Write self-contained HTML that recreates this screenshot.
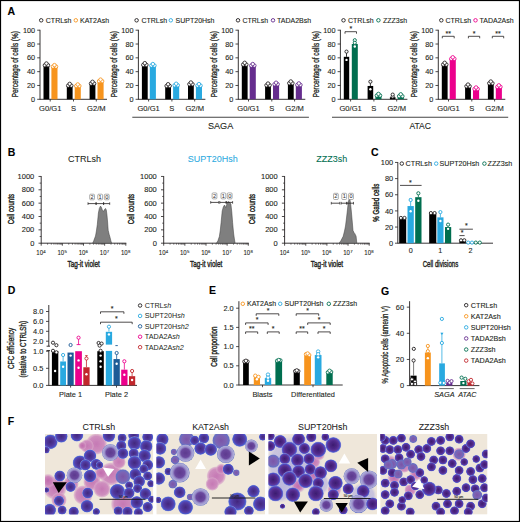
<!DOCTYPE html>
<html><head><meta charset="utf-8"><style>
html,body{margin:0;padding:0;background:#fff;}
body{width:520px;height:522px;overflow:hidden;}
svg{display:block;font-family:"Liberation Sans", sans-serif;}
</style></head><body>
<svg width="520" height="522" viewBox="0 0 520 522">
<defs>
<radialGradient id="gd" cx="50%" cy="50%" r="50%">
 <stop offset="0" stop-color="#3c1c70"/><stop offset="0.45" stop-color="#4e2888"/>
 <stop offset="0.68" stop-color="#5c3598"/><stop offset="0.82" stop-color="#4c48c0"/><stop offset="0.93" stop-color="#7078d4"/>
 <stop offset="1" stop-color="#a8acdf" stop-opacity="0.5"/>
</radialGradient>
<radialGradient id="gm" cx="50%" cy="50%" r="50%">
 <stop offset="0" stop-color="#7a55a8"/><stop offset="0.6" stop-color="#7c64b4"/>
 <stop offset="0.9" stop-color="#6670c4"/><stop offset="1" stop-color="#7080cc" stop-opacity="0.7"/>
</radialGradient>
<radialGradient id="gl" cx="50%" cy="50%" r="50%">
 <stop offset="0" stop-color="#5e3a8e"/><stop offset="0.5" stop-color="#6a489e"/>
 <stop offset="0.7" stop-color="#9a90cc"/><stop offset="0.9" stop-color="#aeacd8"/><stop offset="1" stop-color="#6070c4"/>
</radialGradient>
<radialGradient id="gp" cx="50%" cy="50%" r="50%">
 <stop offset="0" stop-color="#c06cae"/><stop offset="0.55" stop-color="#c97fb7" stop-opacity="0.92"/>
 <stop offset="0.8" stop-color="#d59fc6" stop-opacity="0.6"/><stop offset="1" stop-color="#e0c0d2" stop-opacity="0"/>
</radialGradient>
<radialGradient id="gp2" cx="50%" cy="50%" r="50%">
 <stop offset="0" stop-color="#c579b4"/><stop offset="0.7" stop-color="#cd8abd" stop-opacity="0.95"/>
 <stop offset="0.88" stop-color="#d7a4c8" stop-opacity="0.7"/><stop offset="1" stop-color="#e2c4d4" stop-opacity="0"/>
</radialGradient>
<radialGradient id="gd2" cx="50%" cy="50%" r="50%">
 <stop offset="0" stop-color="#42287e"/><stop offset="0.45" stop-color="#4e3698"/>
 <stop offset="0.7" stop-color="#5542ae"/><stop offset="0.85" stop-color="#4a5acc"/><stop offset="0.94" stop-color="#7684d8"/>
 <stop offset="1" stop-color="#b0b4e0" stop-opacity="0.5"/>
</radialGradient>
<radialGradient id="gL" cx="50%" cy="50%" r="50%">
 <stop offset="0" stop-color="#b4b2dc" stop-opacity="0.9"/><stop offset="0.75" stop-color="#bdb9de" stop-opacity="0.75"/>
 <stop offset="1" stop-color="#d8d0e0" stop-opacity="0"/>
</radialGradient>
<filter id="soft" x="-5%" y="-5%" width="110%" height="110%"><feGaussianBlur stdDeviation="0.7"/></filter>
</defs>
<rect x="0" y="0" width="520" height="522" fill="#fff"/>
<text x="7.60" y="15.00" font-size="10.5" text-anchor="start" fill="#000" stroke="#000" stroke-width="0.1" font-weight="bold" >A</text>
<text x="7.80" y="156.00" font-size="10.5" text-anchor="start" fill="#000" stroke="#000" stroke-width="0.1" font-weight="bold" >B</text>
<text x="371.00" y="155.50" font-size="10.5" text-anchor="start" fill="#000" stroke="#000" stroke-width="0.1" font-weight="bold" >C</text>
<text x="7.80" y="294.30" font-size="10.5" text-anchor="start" fill="#000" stroke="#000" stroke-width="0.1" font-weight="bold" >D</text>
<text x="209.00" y="294.30" font-size="10.5" text-anchor="start" fill="#000" stroke="#000" stroke-width="0.1" font-weight="bold" >E</text>
<text x="7.80" y="424.80" font-size="10.5" text-anchor="start" fill="#000" stroke="#000" stroke-width="0.1" font-weight="bold" >F</text>
<text x="381.00" y="294.60" font-size="10.5" text-anchor="start" fill="#000" stroke="#000" stroke-width="0.1" font-weight="bold" >G</text>
<line x1="40.00" y1="29.80" x2="40.00" y2="99.70" stroke="#231f20" stroke-width="0.9" />
<line x1="37.20" y1="99.30" x2="40.00" y2="99.30" stroke="#231f20" stroke-width="0.8" />
<text x="35.10" y="101.90" font-size="7.3" text-anchor="end" fill="#231f20" stroke="#231f20" stroke-width="0.1" >0</text>
<line x1="37.20" y1="85.48" x2="40.00" y2="85.48" stroke="#231f20" stroke-width="0.8" />
<text x="35.10" y="88.08" font-size="7.3" text-anchor="end" fill="#231f20" stroke="#231f20" stroke-width="0.1" >20</text>
<line x1="37.20" y1="71.66" x2="40.00" y2="71.66" stroke="#231f20" stroke-width="0.8" />
<text x="35.10" y="74.26" font-size="7.3" text-anchor="end" fill="#231f20" stroke="#231f20" stroke-width="0.1" >40</text>
<line x1="37.20" y1="57.84" x2="40.00" y2="57.84" stroke="#231f20" stroke-width="0.8" />
<text x="35.10" y="60.44" font-size="7.3" text-anchor="end" fill="#231f20" stroke="#231f20" stroke-width="0.1" >60</text>
<line x1="37.20" y1="44.02" x2="40.00" y2="44.02" stroke="#231f20" stroke-width="0.8" />
<text x="35.10" y="46.62" font-size="7.3" text-anchor="end" fill="#231f20" stroke="#231f20" stroke-width="0.1" >80</text>
<line x1="37.20" y1="30.20" x2="40.00" y2="30.20" stroke="#231f20" stroke-width="0.8" />
<text x="35.10" y="32.80" font-size="7.3" text-anchor="end" fill="#231f20" stroke="#231f20" stroke-width="0.1" >100</text>
<line x1="40.00" y1="99.30" x2="107.00" y2="99.30" stroke="#231f20" stroke-width="0.9" />
<line x1="50.20" y1="99.30" x2="50.20" y2="101.50" stroke="#231f20" stroke-width="0.8" />
<text x="50.20" y="110.80" font-size="7.6" text-anchor="middle" fill="#231f20" stroke="#231f20" stroke-width="0.1" >G0/G1</text>
<line x1="73.50" y1="99.30" x2="73.50" y2="101.50" stroke="#231f20" stroke-width="0.8" />
<text x="73.50" y="110.80" font-size="7.6" text-anchor="middle" fill="#231f20" stroke="#231f20" stroke-width="0.1" >S</text>
<line x1="96.30" y1="99.30" x2="96.30" y2="101.50" stroke="#231f20" stroke-width="0.8" />
<text x="96.30" y="110.80" font-size="7.6" text-anchor="middle" fill="#231f20" stroke="#231f20" stroke-width="0.1" >G2/M</text>
<text x="18.40" y="64.20" font-size="8.4" text-anchor="middle" fill="#231f20" stroke="#231f20" stroke-width="0.3" textLength="66" lengthAdjust="spacingAndGlyphs" transform="rotate(-90 18.40 64.20)" >Percentage of cells (%)</text>
<circle cx="41.20" cy="20.30" r="1.75" fill="#fff" stroke="#231f20" stroke-width="0.9" />
<text x="45.80" y="22.80" font-size="7" text-anchor="start" fill="#231f20" stroke="#231f20" stroke-width="0.1" >CTRLsh</text>
<circle cx="75.80" cy="20.30" r="1.75" fill="#fff" stroke="#f7941d" stroke-width="0.9" />
<text x="80.00" y="22.80" font-size="7" text-anchor="start" fill="#231f20" stroke="#231f20" stroke-width="0.1" >KAT2Ash</text>
<rect x="43.50" y="65.44" width="5.80" height="33.86" fill="#000000" />
<circle cx="44.90" cy="65.23" r="1.75" fill="#fff" stroke="#231f20" stroke-width="0.85" />
<circle cx="48.00" cy="65.23" r="1.75" fill="#fff" stroke="#231f20" stroke-width="0.85" />
<circle cx="46.40" cy="63.51" r="1.75" fill="#fff" stroke="#231f20" stroke-width="0.85" />
<rect x="51.40" y="66.82" width="6.10" height="32.48" fill="#f7941d" />
<circle cx="52.95" cy="66.62" r="1.75" fill="#fff" stroke="#f7941d" stroke-width="0.85" />
<circle cx="56.05" cy="66.62" r="1.75" fill="#fff" stroke="#f7941d" stroke-width="0.85" />
<circle cx="54.45" cy="65.10" r="1.75" fill="#fff" stroke="#f7941d" stroke-width="0.85" />
<rect x="66.80" y="85.83" width="5.80" height="13.47" fill="#000000" />
<circle cx="68.20" cy="85.62" r="1.75" fill="#fff" stroke="#231f20" stroke-width="0.85" />
<circle cx="71.30" cy="85.62" r="1.75" fill="#fff" stroke="#231f20" stroke-width="0.85" />
<circle cx="69.70" cy="83.89" r="1.75" fill="#fff" stroke="#231f20" stroke-width="0.85" />
<rect x="74.70" y="86.17" width="6.10" height="13.13" fill="#f7941d" />
<circle cx="76.25" cy="85.96" r="1.75" fill="#fff" stroke="#f7941d" stroke-width="0.85" />
<circle cx="79.35" cy="85.96" r="1.75" fill="#fff" stroke="#f7941d" stroke-width="0.85" />
<circle cx="77.75" cy="84.44" r="1.75" fill="#fff" stroke="#f7941d" stroke-width="0.85" />
<rect x="89.60" y="83.75" width="5.80" height="15.55" fill="#000000" />
<circle cx="91.00" cy="83.55" r="1.75" fill="#fff" stroke="#231f20" stroke-width="0.85" />
<circle cx="94.10" cy="83.55" r="1.75" fill="#fff" stroke="#231f20" stroke-width="0.85" />
<circle cx="92.50" cy="81.82" r="1.75" fill="#fff" stroke="#231f20" stroke-width="0.85" />
<rect x="97.50" y="81.33" width="6.10" height="17.97" fill="#f7941d" />
<circle cx="99.05" cy="81.13" r="1.75" fill="#fff" stroke="#f7941d" stroke-width="0.85" />
<circle cx="102.15" cy="81.13" r="1.75" fill="#fff" stroke="#f7941d" stroke-width="0.85" />
<circle cx="100.55" cy="79.61" r="1.75" fill="#fff" stroke="#f7941d" stroke-width="0.85" />
<line x1="138.40" y1="29.80" x2="138.40" y2="99.70" stroke="#231f20" stroke-width="0.9" />
<line x1="135.60" y1="99.30" x2="138.40" y2="99.30" stroke="#231f20" stroke-width="0.8" />
<text x="133.50" y="101.90" font-size="7.3" text-anchor="end" fill="#231f20" stroke="#231f20" stroke-width="0.1" >0</text>
<line x1="135.60" y1="85.48" x2="138.40" y2="85.48" stroke="#231f20" stroke-width="0.8" />
<text x="133.50" y="88.08" font-size="7.3" text-anchor="end" fill="#231f20" stroke="#231f20" stroke-width="0.1" >20</text>
<line x1="135.60" y1="71.66" x2="138.40" y2="71.66" stroke="#231f20" stroke-width="0.8" />
<text x="133.50" y="74.26" font-size="7.3" text-anchor="end" fill="#231f20" stroke="#231f20" stroke-width="0.1" >40</text>
<line x1="135.60" y1="57.84" x2="138.40" y2="57.84" stroke="#231f20" stroke-width="0.8" />
<text x="133.50" y="60.44" font-size="7.3" text-anchor="end" fill="#231f20" stroke="#231f20" stroke-width="0.1" >60</text>
<line x1="135.60" y1="44.02" x2="138.40" y2="44.02" stroke="#231f20" stroke-width="0.8" />
<text x="133.50" y="46.62" font-size="7.3" text-anchor="end" fill="#231f20" stroke="#231f20" stroke-width="0.1" >80</text>
<line x1="135.60" y1="30.20" x2="138.40" y2="30.20" stroke="#231f20" stroke-width="0.8" />
<text x="133.50" y="32.80" font-size="7.3" text-anchor="end" fill="#231f20" stroke="#231f20" stroke-width="0.1" >100</text>
<line x1="138.40" y1="99.30" x2="205.40" y2="99.30" stroke="#231f20" stroke-width="0.9" />
<line x1="148.60" y1="99.30" x2="148.60" y2="101.50" stroke="#231f20" stroke-width="0.8" />
<text x="148.60" y="110.80" font-size="7.6" text-anchor="middle" fill="#231f20" stroke="#231f20" stroke-width="0.1" >G0/G1</text>
<line x1="171.90" y1="99.30" x2="171.90" y2="101.50" stroke="#231f20" stroke-width="0.8" />
<text x="171.90" y="110.80" font-size="7.6" text-anchor="middle" fill="#231f20" stroke="#231f20" stroke-width="0.1" >S</text>
<line x1="194.70" y1="99.30" x2="194.70" y2="101.50" stroke="#231f20" stroke-width="0.8" />
<text x="194.70" y="110.80" font-size="7.6" text-anchor="middle" fill="#231f20" stroke="#231f20" stroke-width="0.1" >G2/M</text>
<text x="116.80" y="64.20" font-size="8.4" text-anchor="middle" fill="#231f20" stroke="#231f20" stroke-width="0.3" textLength="66" lengthAdjust="spacingAndGlyphs" transform="rotate(-90 116.80 64.20)" >Percentage of cells (%)</text>
<circle cx="136.60" cy="20.30" r="1.75" fill="#fff" stroke="#231f20" stroke-width="0.9" />
<text x="141.40" y="22.80" font-size="7" text-anchor="start" fill="#231f20" stroke="#231f20" stroke-width="0.1" >CTRLsh</text>
<circle cx="170.80" cy="20.30" r="1.75" fill="#fff" stroke="#29a9e0" stroke-width="0.9" />
<text x="175.60" y="22.80" font-size="7" text-anchor="start" fill="#231f20" stroke="#231f20" stroke-width="0.1" >SUPT20Hsh</text>
<rect x="141.90" y="65.10" width="5.80" height="34.20" fill="#000000" />
<circle cx="143.30" cy="64.89" r="1.75" fill="#fff" stroke="#231f20" stroke-width="0.85" />
<circle cx="146.40" cy="64.89" r="1.75" fill="#fff" stroke="#231f20" stroke-width="0.85" />
<circle cx="144.80" cy="63.16" r="1.75" fill="#fff" stroke="#231f20" stroke-width="0.85" />
<rect x="149.80" y="65.79" width="6.10" height="33.51" fill="#29a9e0" />
<circle cx="151.35" cy="65.58" r="1.75" fill="#fff" stroke="#29a9e0" stroke-width="0.85" />
<circle cx="154.45" cy="65.58" r="1.75" fill="#fff" stroke="#29a9e0" stroke-width="0.85" />
<circle cx="152.85" cy="64.06" r="1.75" fill="#fff" stroke="#29a9e0" stroke-width="0.85" />
<rect x="165.20" y="86.17" width="5.80" height="13.13" fill="#000000" />
<circle cx="166.60" cy="85.96" r="1.75" fill="#fff" stroke="#231f20" stroke-width="0.85" />
<circle cx="169.70" cy="85.96" r="1.75" fill="#fff" stroke="#231f20" stroke-width="0.85" />
<circle cx="168.10" cy="84.24" r="1.75" fill="#fff" stroke="#231f20" stroke-width="0.85" />
<rect x="173.10" y="85.48" width="6.10" height="13.82" fill="#29a9e0" />
<circle cx="174.65" cy="85.27" r="1.75" fill="#fff" stroke="#29a9e0" stroke-width="0.85" />
<circle cx="177.75" cy="85.27" r="1.75" fill="#fff" stroke="#29a9e0" stroke-width="0.85" />
<circle cx="176.15" cy="83.75" r="1.75" fill="#fff" stroke="#29a9e0" stroke-width="0.85" />
<rect x="188.00" y="84.44" width="5.80" height="14.86" fill="#000000" />
<circle cx="189.40" cy="84.24" r="1.75" fill="#fff" stroke="#231f20" stroke-width="0.85" />
<circle cx="192.50" cy="84.24" r="1.75" fill="#fff" stroke="#231f20" stroke-width="0.85" />
<circle cx="190.90" cy="82.51" r="1.75" fill="#fff" stroke="#231f20" stroke-width="0.85" />
<rect x="195.90" y="85.83" width="6.10" height="13.47" fill="#29a9e0" />
<circle cx="197.45" cy="85.62" r="1.75" fill="#fff" stroke="#29a9e0" stroke-width="0.85" />
<circle cx="200.55" cy="85.62" r="1.75" fill="#fff" stroke="#29a9e0" stroke-width="0.85" />
<circle cx="198.95" cy="84.10" r="1.75" fill="#fff" stroke="#29a9e0" stroke-width="0.85" />
<line x1="238.30" y1="29.80" x2="238.30" y2="99.70" stroke="#231f20" stroke-width="0.9" />
<line x1="235.50" y1="99.30" x2="238.30" y2="99.30" stroke="#231f20" stroke-width="0.8" />
<text x="233.40" y="101.90" font-size="7.3" text-anchor="end" fill="#231f20" stroke="#231f20" stroke-width="0.1" >0</text>
<line x1="235.50" y1="85.48" x2="238.30" y2="85.48" stroke="#231f20" stroke-width="0.8" />
<text x="233.40" y="88.08" font-size="7.3" text-anchor="end" fill="#231f20" stroke="#231f20" stroke-width="0.1" >20</text>
<line x1="235.50" y1="71.66" x2="238.30" y2="71.66" stroke="#231f20" stroke-width="0.8" />
<text x="233.40" y="74.26" font-size="7.3" text-anchor="end" fill="#231f20" stroke="#231f20" stroke-width="0.1" >40</text>
<line x1="235.50" y1="57.84" x2="238.30" y2="57.84" stroke="#231f20" stroke-width="0.8" />
<text x="233.40" y="60.44" font-size="7.3" text-anchor="end" fill="#231f20" stroke="#231f20" stroke-width="0.1" >60</text>
<line x1="235.50" y1="44.02" x2="238.30" y2="44.02" stroke="#231f20" stroke-width="0.8" />
<text x="233.40" y="46.62" font-size="7.3" text-anchor="end" fill="#231f20" stroke="#231f20" stroke-width="0.1" >80</text>
<line x1="235.50" y1="30.20" x2="238.30" y2="30.20" stroke="#231f20" stroke-width="0.8" />
<text x="233.40" y="32.80" font-size="7.3" text-anchor="end" fill="#231f20" stroke="#231f20" stroke-width="0.1" >100</text>
<line x1="238.30" y1="99.30" x2="305.30" y2="99.30" stroke="#231f20" stroke-width="0.9" />
<line x1="248.50" y1="99.30" x2="248.50" y2="101.50" stroke="#231f20" stroke-width="0.8" />
<text x="248.50" y="110.80" font-size="7.6" text-anchor="middle" fill="#231f20" stroke="#231f20" stroke-width="0.1" >G0/G1</text>
<line x1="271.80" y1="99.30" x2="271.80" y2="101.50" stroke="#231f20" stroke-width="0.8" />
<text x="271.80" y="110.80" font-size="7.6" text-anchor="middle" fill="#231f20" stroke="#231f20" stroke-width="0.1" >S</text>
<line x1="294.60" y1="99.30" x2="294.60" y2="101.50" stroke="#231f20" stroke-width="0.8" />
<text x="294.60" y="110.80" font-size="7.6" text-anchor="middle" fill="#231f20" stroke="#231f20" stroke-width="0.1" >G2/M</text>
<text x="216.70" y="64.20" font-size="8.4" text-anchor="middle" fill="#231f20" stroke="#231f20" stroke-width="0.3" textLength="66" lengthAdjust="spacingAndGlyphs" transform="rotate(-90 216.70 64.20)" >Percentage of cells (%)</text>
<circle cx="238.00" cy="20.30" r="1.75" fill="#fff" stroke="#231f20" stroke-width="0.9" />
<text x="242.40" y="22.80" font-size="7" text-anchor="start" fill="#231f20" stroke="#231f20" stroke-width="0.1" >CTRLsh</text>
<circle cx="273.00" cy="20.30" r="1.75" fill="#fff" stroke="#652d8e" stroke-width="0.9" />
<text x="277.00" y="22.80" font-size="7" text-anchor="start" fill="#231f20" stroke="#231f20" stroke-width="0.1" >TADA2Bsh</text>
<rect x="241.80" y="64.75" width="5.80" height="34.55" fill="#000000" />
<circle cx="243.20" cy="64.54" r="1.75" fill="#fff" stroke="#231f20" stroke-width="0.85" />
<circle cx="246.30" cy="64.54" r="1.75" fill="#fff" stroke="#231f20" stroke-width="0.85" />
<circle cx="244.70" cy="62.82" r="1.75" fill="#fff" stroke="#231f20" stroke-width="0.85" />
<rect x="249.70" y="65.79" width="6.10" height="33.51" fill="#652d8e" />
<circle cx="251.25" cy="65.58" r="1.75" fill="#fff" stroke="#652d8e" stroke-width="0.85" />
<circle cx="254.35" cy="65.58" r="1.75" fill="#fff" stroke="#652d8e" stroke-width="0.85" />
<circle cx="252.75" cy="64.06" r="1.75" fill="#fff" stroke="#652d8e" stroke-width="0.85" />
<rect x="265.10" y="85.48" width="5.80" height="13.82" fill="#000000" />
<circle cx="266.50" cy="85.27" r="1.75" fill="#fff" stroke="#231f20" stroke-width="0.85" />
<circle cx="269.60" cy="85.27" r="1.75" fill="#fff" stroke="#231f20" stroke-width="0.85" />
<circle cx="268.00" cy="83.55" r="1.75" fill="#fff" stroke="#231f20" stroke-width="0.85" />
<rect x="273.00" y="84.44" width="6.10" height="14.86" fill="#652d8e" />
<circle cx="274.55" cy="84.24" r="1.75" fill="#fff" stroke="#652d8e" stroke-width="0.85" />
<circle cx="277.65" cy="84.24" r="1.75" fill="#fff" stroke="#652d8e" stroke-width="0.85" />
<circle cx="276.05" cy="82.72" r="1.75" fill="#fff" stroke="#652d8e" stroke-width="0.85" />
<rect x="287.90" y="83.41" width="5.80" height="15.89" fill="#000000" />
<circle cx="289.30" cy="83.20" r="1.75" fill="#fff" stroke="#231f20" stroke-width="0.85" />
<circle cx="292.40" cy="83.20" r="1.75" fill="#fff" stroke="#231f20" stroke-width="0.85" />
<circle cx="290.80" cy="81.47" r="1.75" fill="#fff" stroke="#231f20" stroke-width="0.85" />
<rect x="295.80" y="85.13" width="6.10" height="14.17" fill="#652d8e" />
<circle cx="297.35" cy="84.93" r="1.75" fill="#fff" stroke="#652d8e" stroke-width="0.85" />
<circle cx="300.45" cy="84.93" r="1.75" fill="#fff" stroke="#652d8e" stroke-width="0.85" />
<circle cx="298.85" cy="83.41" r="1.75" fill="#fff" stroke="#652d8e" stroke-width="0.85" />
<line x1="340.40" y1="29.80" x2="340.40" y2="99.70" stroke="#231f20" stroke-width="0.9" />
<line x1="337.60" y1="99.30" x2="340.40" y2="99.30" stroke="#231f20" stroke-width="0.8" />
<text x="335.50" y="101.90" font-size="7.3" text-anchor="end" fill="#231f20" stroke="#231f20" stroke-width="0.1" >0</text>
<line x1="337.60" y1="85.48" x2="340.40" y2="85.48" stroke="#231f20" stroke-width="0.8" />
<text x="335.50" y="88.08" font-size="7.3" text-anchor="end" fill="#231f20" stroke="#231f20" stroke-width="0.1" >20</text>
<line x1="337.60" y1="71.66" x2="340.40" y2="71.66" stroke="#231f20" stroke-width="0.8" />
<text x="335.50" y="74.26" font-size="7.3" text-anchor="end" fill="#231f20" stroke="#231f20" stroke-width="0.1" >40</text>
<line x1="337.60" y1="57.84" x2="340.40" y2="57.84" stroke="#231f20" stroke-width="0.8" />
<text x="335.50" y="60.44" font-size="7.3" text-anchor="end" fill="#231f20" stroke="#231f20" stroke-width="0.1" >60</text>
<line x1="337.60" y1="44.02" x2="340.40" y2="44.02" stroke="#231f20" stroke-width="0.8" />
<text x="335.50" y="46.62" font-size="7.3" text-anchor="end" fill="#231f20" stroke="#231f20" stroke-width="0.1" >80</text>
<line x1="337.60" y1="30.20" x2="340.40" y2="30.20" stroke="#231f20" stroke-width="0.8" />
<text x="335.50" y="32.80" font-size="7.3" text-anchor="end" fill="#231f20" stroke="#231f20" stroke-width="0.1" >100</text>
<line x1="340.40" y1="99.30" x2="407.40" y2="99.30" stroke="#231f20" stroke-width="0.9" />
<line x1="350.60" y1="99.30" x2="350.60" y2="101.50" stroke="#231f20" stroke-width="0.8" />
<text x="350.60" y="110.80" font-size="7.6" text-anchor="middle" fill="#231f20" stroke="#231f20" stroke-width="0.1" >G0/G1</text>
<line x1="373.90" y1="99.30" x2="373.90" y2="101.50" stroke="#231f20" stroke-width="0.8" />
<text x="373.90" y="110.80" font-size="7.6" text-anchor="middle" fill="#231f20" stroke="#231f20" stroke-width="0.1" >S</text>
<line x1="396.70" y1="99.30" x2="396.70" y2="101.50" stroke="#231f20" stroke-width="0.8" />
<text x="396.70" y="110.80" font-size="7.6" text-anchor="middle" fill="#231f20" stroke="#231f20" stroke-width="0.1" >G2/M</text>
<text x="318.80" y="64.20" font-size="8.4" text-anchor="middle" fill="#231f20" stroke="#231f20" stroke-width="0.3" textLength="66" lengthAdjust="spacingAndGlyphs" transform="rotate(-90 318.80 64.20)" >Percentage of cells (%)</text>
<circle cx="343.50" cy="20.30" r="1.75" fill="#fff" stroke="#231f20" stroke-width="0.9" />
<text x="348.00" y="22.80" font-size="7" text-anchor="start" fill="#231f20" stroke="#231f20" stroke-width="0.1" >CTRLsh</text>
<circle cx="378.40" cy="20.30" r="1.75" fill="#fff" stroke="#006e4f" stroke-width="0.9" />
<text x="383.00" y="22.80" font-size="7" text-anchor="start" fill="#231f20" stroke="#231f20" stroke-width="0.1" >ZZZ3sh</text>
<line x1="438.30" y1="29.80" x2="438.30" y2="99.70" stroke="#231f20" stroke-width="0.9" />
<line x1="435.50" y1="99.30" x2="438.30" y2="99.30" stroke="#231f20" stroke-width="0.8" />
<text x="433.40" y="101.90" font-size="7.3" text-anchor="end" fill="#231f20" stroke="#231f20" stroke-width="0.1" >0</text>
<line x1="435.50" y1="85.48" x2="438.30" y2="85.48" stroke="#231f20" stroke-width="0.8" />
<text x="433.40" y="88.08" font-size="7.3" text-anchor="end" fill="#231f20" stroke="#231f20" stroke-width="0.1" >20</text>
<line x1="435.50" y1="71.66" x2="438.30" y2="71.66" stroke="#231f20" stroke-width="0.8" />
<text x="433.40" y="74.26" font-size="7.3" text-anchor="end" fill="#231f20" stroke="#231f20" stroke-width="0.1" >40</text>
<line x1="435.50" y1="57.84" x2="438.30" y2="57.84" stroke="#231f20" stroke-width="0.8" />
<text x="433.40" y="60.44" font-size="7.3" text-anchor="end" fill="#231f20" stroke="#231f20" stroke-width="0.1" >60</text>
<line x1="435.50" y1="44.02" x2="438.30" y2="44.02" stroke="#231f20" stroke-width="0.8" />
<text x="433.40" y="46.62" font-size="7.3" text-anchor="end" fill="#231f20" stroke="#231f20" stroke-width="0.1" >80</text>
<line x1="435.50" y1="30.20" x2="438.30" y2="30.20" stroke="#231f20" stroke-width="0.8" />
<text x="433.40" y="32.80" font-size="7.3" text-anchor="end" fill="#231f20" stroke="#231f20" stroke-width="0.1" >100</text>
<line x1="438.30" y1="99.30" x2="505.30" y2="99.30" stroke="#231f20" stroke-width="0.9" />
<line x1="448.50" y1="99.30" x2="448.50" y2="101.50" stroke="#231f20" stroke-width="0.8" />
<text x="448.50" y="110.80" font-size="7.6" text-anchor="middle" fill="#231f20" stroke="#231f20" stroke-width="0.1" >G0/G1</text>
<line x1="471.80" y1="99.30" x2="471.80" y2="101.50" stroke="#231f20" stroke-width="0.8" />
<text x="471.80" y="110.80" font-size="7.6" text-anchor="middle" fill="#231f20" stroke="#231f20" stroke-width="0.1" >S</text>
<line x1="494.60" y1="99.30" x2="494.60" y2="101.50" stroke="#231f20" stroke-width="0.8" />
<text x="494.60" y="110.80" font-size="7.6" text-anchor="middle" fill="#231f20" stroke="#231f20" stroke-width="0.1" >G2/M</text>
<text x="416.70" y="64.20" font-size="8.4" text-anchor="middle" fill="#231f20" stroke="#231f20" stroke-width="0.3" textLength="66" lengthAdjust="spacingAndGlyphs" transform="rotate(-90 416.70 64.20)" >Percentage of cells (%)</text>
<circle cx="441.30" cy="20.30" r="1.75" fill="#fff" stroke="#231f20" stroke-width="0.9" />
<text x="445.50" y="22.80" font-size="7" text-anchor="start" fill="#231f20" stroke="#231f20" stroke-width="0.1" >CTRLsh</text>
<circle cx="475.50" cy="20.30" r="1.75" fill="#fff" stroke="#ec008c" stroke-width="0.9" />
<text x="479.50" y="22.80" font-size="7" text-anchor="start" fill="#231f20" stroke="#231f20" stroke-width="0.1" >TADA2Ash</text>
<rect x="441.80" y="64.75" width="5.80" height="34.55" fill="#000000" />
<circle cx="443.20" cy="64.54" r="1.75" fill="#fff" stroke="#231f20" stroke-width="0.85" />
<circle cx="446.30" cy="64.54" r="1.75" fill="#fff" stroke="#231f20" stroke-width="0.85" />
<circle cx="444.70" cy="62.82" r="1.75" fill="#fff" stroke="#231f20" stroke-width="0.85" />
<rect x="449.70" y="59.01" width="6.10" height="40.29" fill="#ec008c" />
<circle cx="451.25" cy="58.81" r="1.75" fill="#fff" stroke="#ec008c" stroke-width="0.85" />
<circle cx="454.35" cy="58.81" r="1.75" fill="#fff" stroke="#ec008c" stroke-width="0.85" />
<circle cx="452.75" cy="57.29" r="1.75" fill="#fff" stroke="#ec008c" stroke-width="0.85" />
<rect x="465.10" y="86.52" width="5.80" height="12.78" fill="#000000" />
<circle cx="466.50" cy="86.31" r="1.75" fill="#fff" stroke="#231f20" stroke-width="0.85" />
<circle cx="469.60" cy="86.31" r="1.75" fill="#fff" stroke="#231f20" stroke-width="0.85" />
<circle cx="468.00" cy="84.58" r="1.75" fill="#fff" stroke="#231f20" stroke-width="0.85" />
<rect x="473.00" y="89.21" width="6.10" height="10.09" fill="#ec008c" />
<circle cx="474.55" cy="89.00" r="1.75" fill="#fff" stroke="#ec008c" stroke-width="0.85" />
<circle cx="477.65" cy="89.00" r="1.75" fill="#fff" stroke="#ec008c" stroke-width="0.85" />
<circle cx="476.05" cy="87.48" r="1.75" fill="#fff" stroke="#ec008c" stroke-width="0.85" />
<rect x="487.90" y="83.48" width="5.80" height="15.82" fill="#000000" />
<circle cx="489.30" cy="83.27" r="1.75" fill="#fff" stroke="#231f20" stroke-width="0.85" />
<circle cx="492.40" cy="83.27" r="1.75" fill="#fff" stroke="#231f20" stroke-width="0.85" />
<circle cx="490.80" cy="81.54" r="1.75" fill="#fff" stroke="#231f20" stroke-width="0.85" />
<rect x="495.80" y="87.07" width="6.10" height="12.23" fill="#ec008c" />
<circle cx="497.35" cy="86.86" r="1.75" fill="#fff" stroke="#ec008c" stroke-width="0.85" />
<circle cx="500.45" cy="86.86" r="1.75" fill="#fff" stroke="#ec008c" stroke-width="0.85" />
<circle cx="498.85" cy="85.34" r="1.75" fill="#fff" stroke="#ec008c" stroke-width="0.85" />
<line x1="346.50" y1="56.80" x2="346.50" y2="51.62" stroke="#000000" stroke-width="0.8" />
<line x1="345.20" y1="51.62" x2="347.80" y2="51.62" stroke="#000000" stroke-width="0.8" />
<rect x="343.80" y="56.80" width="5.40" height="42.50" fill="#000000" />
<circle cx="346.50" cy="59.91" r="1.20" fill="#fff" stroke="none" stroke-width="0" />
<circle cx="346.50" cy="51.62" r="1.60" fill="#fff" stroke="#231f20" stroke-width="0.9" />
<rect x="351.80" y="44.02" width="6.00" height="55.28" fill="#006e4f" />
<circle cx="354.80" cy="46.44" r="1.20" fill="#fff" stroke="none" stroke-width="0" />
<circle cx="354.80" cy="40.22" r="1.60" fill="#fff" stroke="#006e4f" stroke-width="0.9" />
<circle cx="354.80" cy="42.78" r="1.60" fill="#fff" stroke="#006e4f" stroke-width="0.9" />
<line x1="370.40" y1="85.96" x2="370.40" y2="81.82" stroke="#000000" stroke-width="0.8" />
<line x1="369.10" y1="81.82" x2="371.70" y2="81.82" stroke="#000000" stroke-width="0.8" />
<rect x="367.60" y="85.96" width="5.60" height="13.34" fill="#000000" />
<circle cx="370.40" cy="89.28" r="1.20" fill="#fff" stroke="none" stroke-width="0" />
<circle cx="370.40" cy="81.68" r="1.60" fill="#fff" stroke="#231f20" stroke-width="0.9" />
<rect x="375.40" y="95.50" width="6.10" height="3.80" fill="#006e4f" />
<circle cx="376.85" cy="95.50" r="1.75" fill="#fff" stroke="#006e4f" stroke-width="0.85" />
<circle cx="380.05" cy="95.50" r="1.75" fill="#fff" stroke="#006e4f" stroke-width="0.85" />
<circle cx="378.45" cy="93.91" r="1.75" fill="#fff" stroke="#006e4f" stroke-width="0.85" />
<rect x="389.90" y="97.23" width="5.60" height="2.07" fill="#000000" />
<circle cx="392.70" cy="96.54" r="1.60" fill="#fff" stroke="#231f20" stroke-width="0.9" />
<circle cx="392.70" cy="94.60" r="1.60" fill="#fff" stroke="#231f20" stroke-width="0.9" />
<rect x="397.70" y="96.54" width="6.10" height="2.76" fill="#006e4f" />
<circle cx="399.15" cy="96.19" r="1.75" fill="#fff" stroke="#006e4f" stroke-width="0.85" />
<circle cx="402.35" cy="96.19" r="1.75" fill="#fff" stroke="#006e4f" stroke-width="0.85" />
<circle cx="400.75" cy="94.32" r="1.75" fill="#fff" stroke="#006e4f" stroke-width="0.85" />
<path d="M345.00,33.70 V31.70 H356.50 V33.70" fill="none" stroke="#231f20" stroke-width="0.8" />
<text x="350.75" y="31.20" font-size="7" text-anchor="middle" fill="#231f20" stroke="#231f20" stroke-width="0.1" >*</text>
<path d="M442.30,38.30 V36.30 H454.20 V38.30" fill="none" stroke="#231f20" stroke-width="0.8" />
<text x="448.25" y="35.60" font-size="7" text-anchor="middle" fill="#231f20" stroke="#231f20" stroke-width="0.1" >**</text>
<path d="M468.40,38.30 V36.30 H479.70 V38.30" fill="none" stroke="#231f20" stroke-width="0.8" />
<text x="474.05" y="35.60" font-size="7" text-anchor="middle" fill="#231f20" stroke="#231f20" stroke-width="0.1" >*</text>
<path d="M492.30,38.30 V36.30 H503.70 V38.30" fill="none" stroke="#231f20" stroke-width="0.8" />
<text x="498.00" y="35.60" font-size="7" text-anchor="middle" fill="#231f20" stroke="#231f20" stroke-width="0.1" >**</text>
<line x1="132.30" y1="117.20" x2="308.90" y2="117.20" stroke="#444" stroke-width="1.1" />
<line x1="332.00" y1="117.20" x2="508.20" y2="117.20" stroke="#444" stroke-width="1.1" />
<text x="220.60" y="129.00" font-size="9.8" text-anchor="middle" fill="#231f20" stroke="#231f20" stroke-width="0.1" textLength="25.4" lengthAdjust="spacingAndGlyphs" >SAGA</text>
<text x="420.20" y="129.00" font-size="9.8" text-anchor="middle" fill="#231f20" stroke="#231f20" stroke-width="0.1" textLength="21.6" lengthAdjust="spacingAndGlyphs" >ATAC</text>
<line x1="41.20" y1="176.05" x2="41.20" y2="243.60" stroke="#231f20" stroke-width="0.9" />
<line x1="38.50" y1="243.20" x2="41.20" y2="243.20" stroke="#231f20" stroke-width="0.8" />
<text x="34.30" y="245.80" font-size="7.5" text-anchor="end" fill="#231f20" stroke="#231f20" stroke-width="0.1" >0</text>
<line x1="39.70" y1="236.52" x2="41.20" y2="236.52" stroke="#231f20" stroke-width="0.7" />
<line x1="38.50" y1="229.85" x2="41.20" y2="229.85" stroke="#231f20" stroke-width="0.8" />
<text x="34.30" y="232.45" font-size="7.5" text-anchor="end" fill="#231f20" stroke="#231f20" stroke-width="0.1" >200</text>
<line x1="39.70" y1="223.17" x2="41.20" y2="223.17" stroke="#231f20" stroke-width="0.7" />
<line x1="38.50" y1="216.50" x2="41.20" y2="216.50" stroke="#231f20" stroke-width="0.8" />
<text x="34.30" y="219.10" font-size="7.5" text-anchor="end" fill="#231f20" stroke="#231f20" stroke-width="0.1" >400</text>
<line x1="39.70" y1="209.82" x2="41.20" y2="209.82" stroke="#231f20" stroke-width="0.7" />
<line x1="38.50" y1="203.15" x2="41.20" y2="203.15" stroke="#231f20" stroke-width="0.8" />
<text x="34.30" y="205.75" font-size="7.5" text-anchor="end" fill="#231f20" stroke="#231f20" stroke-width="0.1" >600</text>
<line x1="39.70" y1="196.47" x2="41.20" y2="196.47" stroke="#231f20" stroke-width="0.7" />
<line x1="38.50" y1="189.80" x2="41.20" y2="189.80" stroke="#231f20" stroke-width="0.8" />
<text x="34.30" y="192.40" font-size="7.5" text-anchor="end" fill="#231f20" stroke="#231f20" stroke-width="0.1" >800</text>
<line x1="39.70" y1="183.12" x2="41.20" y2="183.12" stroke="#231f20" stroke-width="0.7" />
<line x1="38.50" y1="176.45" x2="41.20" y2="176.45" stroke="#231f20" stroke-width="0.8" />
<text x="34.30" y="179.05" font-size="7.5" text-anchor="end" fill="#231f20" stroke="#231f20" stroke-width="0.1" >1000</text>
<line x1="41.20" y1="243.20" x2="126.30" y2="243.20" stroke="#231f20" stroke-width="0.9" />
<line x1="41.20" y1="243.20" x2="41.20" y2="245.70" stroke="#231f20" stroke-width="0.8" />
<text x="39.70" y="255.10" font-size="7" text-anchor="middle" fill="#231f20" stroke="#231f20" stroke-width="0.1" textLength="6.7" lengthAdjust="spacingAndGlyphs" >10</text>
<text x="43.30" y="252.60" font-size="4.3" text-anchor="start" fill="#231f20" stroke="#231f20" stroke-width="0.1" >4</text>
<line x1="47.57" y1="243.20" x2="47.57" y2="244.70" stroke="#231f20" stroke-width="0.6" />
<line x1="51.29" y1="243.20" x2="51.29" y2="244.70" stroke="#231f20" stroke-width="0.6" />
<line x1="53.93" y1="243.20" x2="53.93" y2="244.70" stroke="#231f20" stroke-width="0.6" />
<line x1="55.98" y1="243.20" x2="55.98" y2="244.70" stroke="#231f20" stroke-width="0.6" />
<line x1="57.66" y1="243.20" x2="57.66" y2="244.70" stroke="#231f20" stroke-width="0.6" />
<line x1="59.07" y1="243.20" x2="59.07" y2="244.70" stroke="#231f20" stroke-width="0.6" />
<line x1="60.30" y1="243.20" x2="60.30" y2="244.70" stroke="#231f20" stroke-width="0.6" />
<line x1="61.38" y1="243.20" x2="61.38" y2="244.70" stroke="#231f20" stroke-width="0.6" />
<line x1="62.35" y1="243.20" x2="62.35" y2="245.70" stroke="#231f20" stroke-width="0.8" />
<text x="60.85" y="255.10" font-size="7" text-anchor="middle" fill="#231f20" stroke="#231f20" stroke-width="0.1" textLength="6.7" lengthAdjust="spacingAndGlyphs" >10</text>
<text x="64.45" y="252.60" font-size="4.3" text-anchor="start" fill="#231f20" stroke="#231f20" stroke-width="0.1" >5</text>
<line x1="68.72" y1="243.20" x2="68.72" y2="244.70" stroke="#231f20" stroke-width="0.6" />
<line x1="72.44" y1="243.20" x2="72.44" y2="244.70" stroke="#231f20" stroke-width="0.6" />
<line x1="75.08" y1="243.20" x2="75.08" y2="244.70" stroke="#231f20" stroke-width="0.6" />
<line x1="77.13" y1="243.20" x2="77.13" y2="244.70" stroke="#231f20" stroke-width="0.6" />
<line x1="78.81" y1="243.20" x2="78.81" y2="244.70" stroke="#231f20" stroke-width="0.6" />
<line x1="80.22" y1="243.20" x2="80.22" y2="244.70" stroke="#231f20" stroke-width="0.6" />
<line x1="81.45" y1="243.20" x2="81.45" y2="244.70" stroke="#231f20" stroke-width="0.6" />
<line x1="82.53" y1="243.20" x2="82.53" y2="244.70" stroke="#231f20" stroke-width="0.6" />
<line x1="83.50" y1="243.20" x2="83.50" y2="245.70" stroke="#231f20" stroke-width="0.8" />
<text x="82.00" y="255.10" font-size="7" text-anchor="middle" fill="#231f20" stroke="#231f20" stroke-width="0.1" textLength="6.7" lengthAdjust="spacingAndGlyphs" >10</text>
<text x="85.60" y="252.60" font-size="4.3" text-anchor="start" fill="#231f20" stroke="#231f20" stroke-width="0.1" >6</text>
<line x1="89.87" y1="243.20" x2="89.87" y2="244.70" stroke="#231f20" stroke-width="0.6" />
<line x1="93.59" y1="243.20" x2="93.59" y2="244.70" stroke="#231f20" stroke-width="0.6" />
<line x1="96.23" y1="243.20" x2="96.23" y2="244.70" stroke="#231f20" stroke-width="0.6" />
<line x1="98.28" y1="243.20" x2="98.28" y2="244.70" stroke="#231f20" stroke-width="0.6" />
<line x1="99.96" y1="243.20" x2="99.96" y2="244.70" stroke="#231f20" stroke-width="0.6" />
<line x1="101.37" y1="243.20" x2="101.37" y2="244.70" stroke="#231f20" stroke-width="0.6" />
<line x1="102.60" y1="243.20" x2="102.60" y2="244.70" stroke="#231f20" stroke-width="0.6" />
<line x1="103.68" y1="243.20" x2="103.68" y2="244.70" stroke="#231f20" stroke-width="0.6" />
<line x1="104.65" y1="243.20" x2="104.65" y2="245.70" stroke="#231f20" stroke-width="0.8" />
<text x="103.15" y="255.10" font-size="7" text-anchor="middle" fill="#231f20" stroke="#231f20" stroke-width="0.1" textLength="6.7" lengthAdjust="spacingAndGlyphs" >10</text>
<text x="106.75" y="252.60" font-size="4.3" text-anchor="start" fill="#231f20" stroke="#231f20" stroke-width="0.1" >7</text>
<line x1="111.02" y1="243.20" x2="111.02" y2="244.70" stroke="#231f20" stroke-width="0.6" />
<line x1="114.74" y1="243.20" x2="114.74" y2="244.70" stroke="#231f20" stroke-width="0.6" />
<line x1="117.38" y1="243.20" x2="117.38" y2="244.70" stroke="#231f20" stroke-width="0.6" />
<line x1="119.43" y1="243.20" x2="119.43" y2="244.70" stroke="#231f20" stroke-width="0.6" />
<line x1="121.11" y1="243.20" x2="121.11" y2="244.70" stroke="#231f20" stroke-width="0.6" />
<line x1="122.52" y1="243.20" x2="122.52" y2="244.70" stroke="#231f20" stroke-width="0.6" />
<line x1="123.75" y1="243.20" x2="123.75" y2="244.70" stroke="#231f20" stroke-width="0.6" />
<line x1="124.83" y1="243.20" x2="124.83" y2="244.70" stroke="#231f20" stroke-width="0.6" />
<line x1="125.80" y1="243.20" x2="125.80" y2="245.70" stroke="#231f20" stroke-width="0.8" />
<text x="124.30" y="255.10" font-size="7" text-anchor="middle" fill="#231f20" stroke="#231f20" stroke-width="0.1" textLength="6.7" lengthAdjust="spacingAndGlyphs" >10</text>
<text x="127.90" y="252.60" font-size="4.3" text-anchor="start" fill="#231f20" stroke="#231f20" stroke-width="0.1" >8</text>
<text x="14.10" y="209.10" font-size="9" text-anchor="middle" fill="#231f20" stroke="#231f20" stroke-width="0.4" textLength="30.2" lengthAdjust="spacingAndGlyphs" transform="rotate(-90 14.10 209.10)" >Cell counts</text>
<text x="83.60" y="267.10" font-size="8.8" text-anchor="middle" fill="#231f20" stroke="#231f20" stroke-width="0.4" textLength="32.3" lengthAdjust="spacingAndGlyphs" >Tag-it violet</text>
<text x="84.40" y="162.30" font-size="9.0" text-anchor="middle" fill="#231f20" stroke="#231f20" stroke-width="0.05" >CTRLsh</text>
<path d="M92.70,243.20 L93.80,240.60 L95.50,236.00 L96.40,231.00 L97.30,224.50 L98.40,213.00 L99.30,208.40 L100.50,206.10 L101.50,207.50 L102.50,210.50 L103.40,211.30 L104.50,209.50 L105.50,208.40 L106.30,210.00 L107.00,215.30 L107.60,222.00 L108.20,230.30 L109.20,234.50 L110.00,237.20 L110.80,240.50 L111.60,243.20 Z" fill="#7f7f7f" stroke="#3a3a3a" stroke-width="0.5" />
<rect x="89.70" y="194.20" width="4.8" height="5.60" rx="1.0" fill="#fff" stroke="#777" stroke-width="0.6"/>
<text x="92.10" y="198.70" font-size="5.6" text-anchor="middle" fill="#333" stroke="#333" stroke-width="0.05" >2</text>
<rect x="97.75" y="194.20" width="4.8" height="5.60" rx="1.0" fill="#fff" stroke="#777" stroke-width="0.6"/>
<text x="100.15" y="198.70" font-size="5.6" text-anchor="middle" fill="#333" stroke="#333" stroke-width="0.05" >1</text>
<rect x="104.35" y="194.20" width="4.8" height="5.60" rx="1.0" fill="#fff" stroke="#777" stroke-width="0.6"/>
<text x="106.75" y="198.70" font-size="5.6" text-anchor="middle" fill="#333" stroke="#333" stroke-width="0.05" >0</text>
<line x1="88.00" y1="203.60" x2="96.10" y2="203.60" stroke="#231f20" stroke-width="0.8" />
<line x1="88.00" y1="202.30" x2="88.00" y2="204.90" stroke="#231f20" stroke-width="0.7" />
<line x1="96.10" y1="202.30" x2="96.10" y2="204.90" stroke="#231f20" stroke-width="0.7" />
<line x1="96.10" y1="203.60" x2="103.60" y2="203.60" stroke="#231f20" stroke-width="0.8" />
<line x1="96.10" y1="202.30" x2="96.10" y2="204.90" stroke="#231f20" stroke-width="0.7" />
<line x1="103.60" y1="202.30" x2="103.60" y2="204.90" stroke="#231f20" stroke-width="0.7" />
<line x1="103.60" y1="203.60" x2="109.70" y2="203.60" stroke="#231f20" stroke-width="0.8" />
<line x1="103.60" y1="202.30" x2="103.60" y2="204.90" stroke="#231f20" stroke-width="0.7" />
<line x1="109.70" y1="202.30" x2="109.70" y2="204.90" stroke="#231f20" stroke-width="0.7" />
<line x1="163.70" y1="176.05" x2="163.70" y2="243.60" stroke="#231f20" stroke-width="0.9" />
<line x1="161.00" y1="243.20" x2="163.70" y2="243.20" stroke="#231f20" stroke-width="0.8" />
<text x="156.80" y="245.80" font-size="7.5" text-anchor="end" fill="#231f20" stroke="#231f20" stroke-width="0.1" >0</text>
<line x1="162.20" y1="236.52" x2="163.70" y2="236.52" stroke="#231f20" stroke-width="0.7" />
<line x1="161.00" y1="229.85" x2="163.70" y2="229.85" stroke="#231f20" stroke-width="0.8" />
<text x="156.80" y="232.45" font-size="7.5" text-anchor="end" fill="#231f20" stroke="#231f20" stroke-width="0.1" >200</text>
<line x1="162.20" y1="223.17" x2="163.70" y2="223.17" stroke="#231f20" stroke-width="0.7" />
<line x1="161.00" y1="216.50" x2="163.70" y2="216.50" stroke="#231f20" stroke-width="0.8" />
<text x="156.80" y="219.10" font-size="7.5" text-anchor="end" fill="#231f20" stroke="#231f20" stroke-width="0.1" >400</text>
<line x1="162.20" y1="209.82" x2="163.70" y2="209.82" stroke="#231f20" stroke-width="0.7" />
<line x1="161.00" y1="203.15" x2="163.70" y2="203.15" stroke="#231f20" stroke-width="0.8" />
<text x="156.80" y="205.75" font-size="7.5" text-anchor="end" fill="#231f20" stroke="#231f20" stroke-width="0.1" >600</text>
<line x1="162.20" y1="196.47" x2="163.70" y2="196.47" stroke="#231f20" stroke-width="0.7" />
<line x1="161.00" y1="189.80" x2="163.70" y2="189.80" stroke="#231f20" stroke-width="0.8" />
<text x="156.80" y="192.40" font-size="7.5" text-anchor="end" fill="#231f20" stroke="#231f20" stroke-width="0.1" >800</text>
<line x1="162.20" y1="183.12" x2="163.70" y2="183.12" stroke="#231f20" stroke-width="0.7" />
<line x1="161.00" y1="176.45" x2="163.70" y2="176.45" stroke="#231f20" stroke-width="0.8" />
<text x="156.80" y="179.05" font-size="7.5" text-anchor="end" fill="#231f20" stroke="#231f20" stroke-width="0.1" >1000</text>
<line x1="163.70" y1="243.20" x2="248.80" y2="243.20" stroke="#231f20" stroke-width="0.9" />
<line x1="163.70" y1="243.20" x2="163.70" y2="245.70" stroke="#231f20" stroke-width="0.8" />
<text x="162.20" y="255.10" font-size="7" text-anchor="middle" fill="#231f20" stroke="#231f20" stroke-width="0.1" textLength="6.7" lengthAdjust="spacingAndGlyphs" >10</text>
<text x="165.80" y="252.60" font-size="4.3" text-anchor="start" fill="#231f20" stroke="#231f20" stroke-width="0.1" >4</text>
<line x1="170.07" y1="243.20" x2="170.07" y2="244.70" stroke="#231f20" stroke-width="0.6" />
<line x1="173.79" y1="243.20" x2="173.79" y2="244.70" stroke="#231f20" stroke-width="0.6" />
<line x1="176.43" y1="243.20" x2="176.43" y2="244.70" stroke="#231f20" stroke-width="0.6" />
<line x1="178.48" y1="243.20" x2="178.48" y2="244.70" stroke="#231f20" stroke-width="0.6" />
<line x1="180.16" y1="243.20" x2="180.16" y2="244.70" stroke="#231f20" stroke-width="0.6" />
<line x1="181.57" y1="243.20" x2="181.57" y2="244.70" stroke="#231f20" stroke-width="0.6" />
<line x1="182.80" y1="243.20" x2="182.80" y2="244.70" stroke="#231f20" stroke-width="0.6" />
<line x1="183.88" y1="243.20" x2="183.88" y2="244.70" stroke="#231f20" stroke-width="0.6" />
<line x1="184.85" y1="243.20" x2="184.85" y2="245.70" stroke="#231f20" stroke-width="0.8" />
<text x="183.35" y="255.10" font-size="7" text-anchor="middle" fill="#231f20" stroke="#231f20" stroke-width="0.1" textLength="6.7" lengthAdjust="spacingAndGlyphs" >10</text>
<text x="186.95" y="252.60" font-size="4.3" text-anchor="start" fill="#231f20" stroke="#231f20" stroke-width="0.1" >5</text>
<line x1="191.22" y1="243.20" x2="191.22" y2="244.70" stroke="#231f20" stroke-width="0.6" />
<line x1="194.94" y1="243.20" x2="194.94" y2="244.70" stroke="#231f20" stroke-width="0.6" />
<line x1="197.58" y1="243.20" x2="197.58" y2="244.70" stroke="#231f20" stroke-width="0.6" />
<line x1="199.63" y1="243.20" x2="199.63" y2="244.70" stroke="#231f20" stroke-width="0.6" />
<line x1="201.31" y1="243.20" x2="201.31" y2="244.70" stroke="#231f20" stroke-width="0.6" />
<line x1="202.72" y1="243.20" x2="202.72" y2="244.70" stroke="#231f20" stroke-width="0.6" />
<line x1="203.95" y1="243.20" x2="203.95" y2="244.70" stroke="#231f20" stroke-width="0.6" />
<line x1="205.03" y1="243.20" x2="205.03" y2="244.70" stroke="#231f20" stroke-width="0.6" />
<line x1="206.00" y1="243.20" x2="206.00" y2="245.70" stroke="#231f20" stroke-width="0.8" />
<text x="204.50" y="255.10" font-size="7" text-anchor="middle" fill="#231f20" stroke="#231f20" stroke-width="0.1" textLength="6.7" lengthAdjust="spacingAndGlyphs" >10</text>
<text x="208.10" y="252.60" font-size="4.3" text-anchor="start" fill="#231f20" stroke="#231f20" stroke-width="0.1" >6</text>
<line x1="212.37" y1="243.20" x2="212.37" y2="244.70" stroke="#231f20" stroke-width="0.6" />
<line x1="216.09" y1="243.20" x2="216.09" y2="244.70" stroke="#231f20" stroke-width="0.6" />
<line x1="218.73" y1="243.20" x2="218.73" y2="244.70" stroke="#231f20" stroke-width="0.6" />
<line x1="220.78" y1="243.20" x2="220.78" y2="244.70" stroke="#231f20" stroke-width="0.6" />
<line x1="222.46" y1="243.20" x2="222.46" y2="244.70" stroke="#231f20" stroke-width="0.6" />
<line x1="223.87" y1="243.20" x2="223.87" y2="244.70" stroke="#231f20" stroke-width="0.6" />
<line x1="225.10" y1="243.20" x2="225.10" y2="244.70" stroke="#231f20" stroke-width="0.6" />
<line x1="226.18" y1="243.20" x2="226.18" y2="244.70" stroke="#231f20" stroke-width="0.6" />
<line x1="227.15" y1="243.20" x2="227.15" y2="245.70" stroke="#231f20" stroke-width="0.8" />
<text x="225.65" y="255.10" font-size="7" text-anchor="middle" fill="#231f20" stroke="#231f20" stroke-width="0.1" textLength="6.7" lengthAdjust="spacingAndGlyphs" >10</text>
<text x="229.25" y="252.60" font-size="4.3" text-anchor="start" fill="#231f20" stroke="#231f20" stroke-width="0.1" >7</text>
<line x1="233.52" y1="243.20" x2="233.52" y2="244.70" stroke="#231f20" stroke-width="0.6" />
<line x1="237.24" y1="243.20" x2="237.24" y2="244.70" stroke="#231f20" stroke-width="0.6" />
<line x1="239.88" y1="243.20" x2="239.88" y2="244.70" stroke="#231f20" stroke-width="0.6" />
<line x1="241.93" y1="243.20" x2="241.93" y2="244.70" stroke="#231f20" stroke-width="0.6" />
<line x1="243.61" y1="243.20" x2="243.61" y2="244.70" stroke="#231f20" stroke-width="0.6" />
<line x1="245.02" y1="243.20" x2="245.02" y2="244.70" stroke="#231f20" stroke-width="0.6" />
<line x1="246.25" y1="243.20" x2="246.25" y2="244.70" stroke="#231f20" stroke-width="0.6" />
<line x1="247.33" y1="243.20" x2="247.33" y2="244.70" stroke="#231f20" stroke-width="0.6" />
<line x1="248.30" y1="243.20" x2="248.30" y2="245.70" stroke="#231f20" stroke-width="0.8" />
<text x="246.80" y="255.10" font-size="7" text-anchor="middle" fill="#231f20" stroke="#231f20" stroke-width="0.1" textLength="6.7" lengthAdjust="spacingAndGlyphs" >10</text>
<text x="250.40" y="252.60" font-size="4.3" text-anchor="start" fill="#231f20" stroke="#231f20" stroke-width="0.1" >8</text>
<text x="134.40" y="209.10" font-size="9" text-anchor="middle" fill="#231f20" stroke="#231f20" stroke-width="0.4" textLength="30.2" lengthAdjust="spacingAndGlyphs" transform="rotate(-90 134.40 209.10)" >Cell counts</text>
<text x="206.10" y="267.10" font-size="8.8" text-anchor="middle" fill="#231f20" stroke="#231f20" stroke-width="0.4" textLength="32.3" lengthAdjust="spacingAndGlyphs" >Tag-it violet</text>
<text x="212.80" y="162.30" font-size="9.0" text-anchor="middle" fill="#29a9e0" stroke="#29a9e0" stroke-width="0.05" >SUPT20Hsh</text>
<path d="M216.50,243.20 L218.00,240.50 L219.40,236.30 L220.30,230.00 L221.10,222.50 L222.20,211.00 L223.30,207.00 L224.50,205.00 L225.20,206.50 L225.70,207.50 L226.60,205.00 L227.30,202.50 L228.00,201.60 L229.50,202.20 L230.90,204.00 L231.80,212.00 L232.60,222.50 L233.20,229.00 L233.70,234.00 L234.40,239.00 L235.10,243.20 Z" fill="#7f7f7f" stroke="#3a3a3a" stroke-width="0.5" />
<rect x="212.10" y="192.90" width="4.8" height="6.00" rx="1.0" fill="#fff" stroke="#777" stroke-width="0.6"/>
<text x="214.50" y="197.80" font-size="5.6" text-anchor="middle" fill="#333" stroke="#333" stroke-width="0.05" >2</text>
<rect x="221.00" y="192.90" width="4.8" height="6.00" rx="1.0" fill="#fff" stroke="#777" stroke-width="0.6"/>
<text x="223.40" y="197.80" font-size="5.6" text-anchor="middle" fill="#333" stroke="#333" stroke-width="0.05" >1</text>
<rect x="227.30" y="192.90" width="4.8" height="6.00" rx="1.0" fill="#fff" stroke="#777" stroke-width="0.6"/>
<text x="229.70" y="197.80" font-size="5.6" text-anchor="middle" fill="#333" stroke="#333" stroke-width="0.05" >0</text>
<line x1="210.70" y1="202.40" x2="218.80" y2="202.40" stroke="#231f20" stroke-width="0.8" />
<line x1="210.70" y1="201.10" x2="210.70" y2="203.70" stroke="#231f20" stroke-width="0.7" />
<line x1="218.80" y1="201.10" x2="218.80" y2="203.70" stroke="#231f20" stroke-width="0.7" />
<line x1="219.80" y1="202.40" x2="226.20" y2="202.40" stroke="#231f20" stroke-width="0.8" />
<line x1="219.80" y1="201.10" x2="219.80" y2="203.70" stroke="#231f20" stroke-width="0.7" />
<line x1="226.20" y1="201.10" x2="226.20" y2="203.70" stroke="#231f20" stroke-width="0.7" />
<line x1="226.20" y1="202.40" x2="232.60" y2="202.40" stroke="#231f20" stroke-width="0.8" />
<line x1="226.20" y1="201.10" x2="226.20" y2="203.70" stroke="#231f20" stroke-width="0.7" />
<line x1="232.60" y1="201.10" x2="232.60" y2="203.70" stroke="#231f20" stroke-width="0.7" />
<line x1="284.60" y1="176.05" x2="284.60" y2="243.60" stroke="#231f20" stroke-width="0.9" />
<line x1="281.90" y1="243.20" x2="284.60" y2="243.20" stroke="#231f20" stroke-width="0.8" />
<text x="277.70" y="245.80" font-size="7.5" text-anchor="end" fill="#231f20" stroke="#231f20" stroke-width="0.1" >0</text>
<line x1="283.10" y1="236.52" x2="284.60" y2="236.52" stroke="#231f20" stroke-width="0.7" />
<line x1="281.90" y1="229.85" x2="284.60" y2="229.85" stroke="#231f20" stroke-width="0.8" />
<text x="277.70" y="232.45" font-size="7.5" text-anchor="end" fill="#231f20" stroke="#231f20" stroke-width="0.1" >200</text>
<line x1="283.10" y1="223.17" x2="284.60" y2="223.17" stroke="#231f20" stroke-width="0.7" />
<line x1="281.90" y1="216.50" x2="284.60" y2="216.50" stroke="#231f20" stroke-width="0.8" />
<text x="277.70" y="219.10" font-size="7.5" text-anchor="end" fill="#231f20" stroke="#231f20" stroke-width="0.1" >400</text>
<line x1="283.10" y1="209.82" x2="284.60" y2="209.82" stroke="#231f20" stroke-width="0.7" />
<line x1="281.90" y1="203.15" x2="284.60" y2="203.15" stroke="#231f20" stroke-width="0.8" />
<text x="277.70" y="205.75" font-size="7.5" text-anchor="end" fill="#231f20" stroke="#231f20" stroke-width="0.1" >600</text>
<line x1="283.10" y1="196.47" x2="284.60" y2="196.47" stroke="#231f20" stroke-width="0.7" />
<line x1="281.90" y1="189.80" x2="284.60" y2="189.80" stroke="#231f20" stroke-width="0.8" />
<text x="277.70" y="192.40" font-size="7.5" text-anchor="end" fill="#231f20" stroke="#231f20" stroke-width="0.1" >800</text>
<line x1="283.10" y1="183.12" x2="284.60" y2="183.12" stroke="#231f20" stroke-width="0.7" />
<line x1="281.90" y1="176.45" x2="284.60" y2="176.45" stroke="#231f20" stroke-width="0.8" />
<text x="277.70" y="179.05" font-size="7.5" text-anchor="end" fill="#231f20" stroke="#231f20" stroke-width="0.1" >1000</text>
<line x1="284.60" y1="243.20" x2="369.70" y2="243.20" stroke="#231f20" stroke-width="0.9" />
<line x1="284.60" y1="243.20" x2="284.60" y2="245.70" stroke="#231f20" stroke-width="0.8" />
<text x="283.10" y="255.10" font-size="7" text-anchor="middle" fill="#231f20" stroke="#231f20" stroke-width="0.1" textLength="6.7" lengthAdjust="spacingAndGlyphs" >10</text>
<text x="286.70" y="252.60" font-size="4.3" text-anchor="start" fill="#231f20" stroke="#231f20" stroke-width="0.1" >4</text>
<line x1="290.97" y1="243.20" x2="290.97" y2="244.70" stroke="#231f20" stroke-width="0.6" />
<line x1="294.69" y1="243.20" x2="294.69" y2="244.70" stroke="#231f20" stroke-width="0.6" />
<line x1="297.33" y1="243.20" x2="297.33" y2="244.70" stroke="#231f20" stroke-width="0.6" />
<line x1="299.38" y1="243.20" x2="299.38" y2="244.70" stroke="#231f20" stroke-width="0.6" />
<line x1="301.06" y1="243.20" x2="301.06" y2="244.70" stroke="#231f20" stroke-width="0.6" />
<line x1="302.47" y1="243.20" x2="302.47" y2="244.70" stroke="#231f20" stroke-width="0.6" />
<line x1="303.70" y1="243.20" x2="303.70" y2="244.70" stroke="#231f20" stroke-width="0.6" />
<line x1="304.78" y1="243.20" x2="304.78" y2="244.70" stroke="#231f20" stroke-width="0.6" />
<line x1="305.75" y1="243.20" x2="305.75" y2="245.70" stroke="#231f20" stroke-width="0.8" />
<text x="304.25" y="255.10" font-size="7" text-anchor="middle" fill="#231f20" stroke="#231f20" stroke-width="0.1" textLength="6.7" lengthAdjust="spacingAndGlyphs" >10</text>
<text x="307.85" y="252.60" font-size="4.3" text-anchor="start" fill="#231f20" stroke="#231f20" stroke-width="0.1" >5</text>
<line x1="312.12" y1="243.20" x2="312.12" y2="244.70" stroke="#231f20" stroke-width="0.6" />
<line x1="315.84" y1="243.20" x2="315.84" y2="244.70" stroke="#231f20" stroke-width="0.6" />
<line x1="318.48" y1="243.20" x2="318.48" y2="244.70" stroke="#231f20" stroke-width="0.6" />
<line x1="320.53" y1="243.20" x2="320.53" y2="244.70" stroke="#231f20" stroke-width="0.6" />
<line x1="322.21" y1="243.20" x2="322.21" y2="244.70" stroke="#231f20" stroke-width="0.6" />
<line x1="323.62" y1="243.20" x2="323.62" y2="244.70" stroke="#231f20" stroke-width="0.6" />
<line x1="324.85" y1="243.20" x2="324.85" y2="244.70" stroke="#231f20" stroke-width="0.6" />
<line x1="325.93" y1="243.20" x2="325.93" y2="244.70" stroke="#231f20" stroke-width="0.6" />
<line x1="326.90" y1="243.20" x2="326.90" y2="245.70" stroke="#231f20" stroke-width="0.8" />
<text x="325.40" y="255.10" font-size="7" text-anchor="middle" fill="#231f20" stroke="#231f20" stroke-width="0.1" textLength="6.7" lengthAdjust="spacingAndGlyphs" >10</text>
<text x="329.00" y="252.60" font-size="4.3" text-anchor="start" fill="#231f20" stroke="#231f20" stroke-width="0.1" >6</text>
<line x1="333.27" y1="243.20" x2="333.27" y2="244.70" stroke="#231f20" stroke-width="0.6" />
<line x1="336.99" y1="243.20" x2="336.99" y2="244.70" stroke="#231f20" stroke-width="0.6" />
<line x1="339.63" y1="243.20" x2="339.63" y2="244.70" stroke="#231f20" stroke-width="0.6" />
<line x1="341.68" y1="243.20" x2="341.68" y2="244.70" stroke="#231f20" stroke-width="0.6" />
<line x1="343.36" y1="243.20" x2="343.36" y2="244.70" stroke="#231f20" stroke-width="0.6" />
<line x1="344.77" y1="243.20" x2="344.77" y2="244.70" stroke="#231f20" stroke-width="0.6" />
<line x1="346.00" y1="243.20" x2="346.00" y2="244.70" stroke="#231f20" stroke-width="0.6" />
<line x1="347.08" y1="243.20" x2="347.08" y2="244.70" stroke="#231f20" stroke-width="0.6" />
<line x1="348.05" y1="243.20" x2="348.05" y2="245.70" stroke="#231f20" stroke-width="0.8" />
<text x="346.55" y="255.10" font-size="7" text-anchor="middle" fill="#231f20" stroke="#231f20" stroke-width="0.1" textLength="6.7" lengthAdjust="spacingAndGlyphs" >10</text>
<text x="350.15" y="252.60" font-size="4.3" text-anchor="start" fill="#231f20" stroke="#231f20" stroke-width="0.1" >7</text>
<line x1="354.42" y1="243.20" x2="354.42" y2="244.70" stroke="#231f20" stroke-width="0.6" />
<line x1="358.14" y1="243.20" x2="358.14" y2="244.70" stroke="#231f20" stroke-width="0.6" />
<line x1="360.78" y1="243.20" x2="360.78" y2="244.70" stroke="#231f20" stroke-width="0.6" />
<line x1="362.83" y1="243.20" x2="362.83" y2="244.70" stroke="#231f20" stroke-width="0.6" />
<line x1="364.51" y1="243.20" x2="364.51" y2="244.70" stroke="#231f20" stroke-width="0.6" />
<line x1="365.92" y1="243.20" x2="365.92" y2="244.70" stroke="#231f20" stroke-width="0.6" />
<line x1="367.15" y1="243.20" x2="367.15" y2="244.70" stroke="#231f20" stroke-width="0.6" />
<line x1="368.23" y1="243.20" x2="368.23" y2="244.70" stroke="#231f20" stroke-width="0.6" />
<line x1="369.20" y1="243.20" x2="369.20" y2="245.70" stroke="#231f20" stroke-width="0.8" />
<text x="367.70" y="255.10" font-size="7" text-anchor="middle" fill="#231f20" stroke="#231f20" stroke-width="0.1" textLength="6.7" lengthAdjust="spacingAndGlyphs" >10</text>
<text x="371.30" y="252.60" font-size="4.3" text-anchor="start" fill="#231f20" stroke="#231f20" stroke-width="0.1" >8</text>
<text x="255.20" y="209.10" font-size="9" text-anchor="middle" fill="#231f20" stroke="#231f20" stroke-width="0.4" textLength="30.2" lengthAdjust="spacingAndGlyphs" transform="rotate(-90 255.20 209.10)" >Cell counts</text>
<text x="327.00" y="267.10" font-size="8.8" text-anchor="middle" fill="#231f20" stroke="#231f20" stroke-width="0.4" textLength="32.3" lengthAdjust="spacingAndGlyphs" >Tag-it violet</text>
<text x="331.80" y="162.30" font-size="9.0" text-anchor="middle" fill="#006e4f" stroke="#006e4f" stroke-width="0.05" >ZZZ3sh</text>
<path d="M339.20,243.20 L341.00,240.50 L343.20,236.30 L344.50,231.00 L345.50,226.00 L346.50,218.00 L347.30,211.00 L348.30,202.00 L349.60,197.20 L350.50,203.00 L351.30,211.00 L352.20,221.00 L353.00,230.50 L354.00,232.60 L354.70,233.40 L355.50,235.00 L356.10,236.30 L356.50,240.00 L356.80,243.20 Z" fill="#7f7f7f" stroke="#3a3a3a" stroke-width="0.5" />
<rect x="333.50" y="193.30" width="4.8" height="6.20" rx="1.0" fill="#fff" stroke="#777" stroke-width="0.6"/>
<text x="335.90" y="198.40" font-size="5.6" text-anchor="middle" fill="#333" stroke="#333" stroke-width="0.05" >2</text>
<rect x="341.80" y="193.30" width="4.8" height="6.20" rx="1.0" fill="#fff" stroke="#777" stroke-width="0.6"/>
<text x="344.20" y="198.40" font-size="5.6" text-anchor="middle" fill="#333" stroke="#333" stroke-width="0.05" >1</text>
<rect x="348.60" y="193.30" width="4.8" height="6.20" rx="1.0" fill="#fff" stroke="#777" stroke-width="0.6"/>
<text x="351.00" y="198.40" font-size="5.6" text-anchor="middle" fill="#333" stroke="#333" stroke-width="0.05" >0</text>
<line x1="331.30" y1="203.20" x2="339.80" y2="203.20" stroke="#231f20" stroke-width="0.8" />
<line x1="331.30" y1="201.90" x2="331.30" y2="204.50" stroke="#231f20" stroke-width="0.7" />
<line x1="339.80" y1="201.90" x2="339.80" y2="204.50" stroke="#231f20" stroke-width="0.7" />
<line x1="341.20" y1="203.20" x2="346.80" y2="203.20" stroke="#231f20" stroke-width="0.8" />
<line x1="341.20" y1="201.90" x2="341.20" y2="204.50" stroke="#231f20" stroke-width="0.7" />
<line x1="346.80" y1="201.90" x2="346.80" y2="204.50" stroke="#231f20" stroke-width="0.7" />
<line x1="346.80" y1="203.20" x2="353.50" y2="203.20" stroke="#231f20" stroke-width="0.8" />
<line x1="346.80" y1="201.90" x2="346.80" y2="204.50" stroke="#231f20" stroke-width="0.7" />
<line x1="353.50" y1="201.90" x2="353.50" y2="204.50" stroke="#231f20" stroke-width="0.7" />
<line x1="397.80" y1="162.05" x2="397.80" y2="243.60" stroke="#231f20" stroke-width="0.9" />
<line x1="395.00" y1="243.20" x2="397.80" y2="243.20" stroke="#231f20" stroke-width="0.8" />
<text x="393.20" y="245.80" font-size="7.4" text-anchor="end" fill="#231f20" stroke="#231f20" stroke-width="0.1" >0</text>
<line x1="395.00" y1="227.05" x2="397.80" y2="227.05" stroke="#231f20" stroke-width="0.8" />
<text x="393.20" y="229.65" font-size="7.4" text-anchor="end" fill="#231f20" stroke="#231f20" stroke-width="0.1" >20</text>
<line x1="395.00" y1="210.90" x2="397.80" y2="210.90" stroke="#231f20" stroke-width="0.8" />
<text x="393.20" y="213.50" font-size="7.4" text-anchor="end" fill="#231f20" stroke="#231f20" stroke-width="0.1" >40</text>
<line x1="395.00" y1="194.75" x2="397.80" y2="194.75" stroke="#231f20" stroke-width="0.8" />
<text x="393.20" y="197.35" font-size="7.4" text-anchor="end" fill="#231f20" stroke="#231f20" stroke-width="0.1" >60</text>
<line x1="395.00" y1="178.60" x2="397.80" y2="178.60" stroke="#231f20" stroke-width="0.8" />
<text x="393.20" y="181.20" font-size="7.4" text-anchor="end" fill="#231f20" stroke="#231f20" stroke-width="0.1" >80</text>
<line x1="395.00" y1="162.45" x2="397.80" y2="162.45" stroke="#231f20" stroke-width="0.8" />
<text x="393.20" y="165.05" font-size="7.4" text-anchor="end" fill="#231f20" stroke="#231f20" stroke-width="0.1" >100</text>
<line x1="397.80" y1="243.20" x2="493.00" y2="243.20" stroke="#231f20" stroke-width="0.9" />
<text x="410.80" y="253.00" font-size="7.2" text-anchor="middle" fill="#231f20" stroke="#231f20" stroke-width="0.1" >0</text>
<text x="440.20" y="253.00" font-size="7.2" text-anchor="middle" fill="#231f20" stroke="#231f20" stroke-width="0.1" >1</text>
<text x="470.40" y="253.00" font-size="7.2" text-anchor="middle" fill="#231f20" stroke="#231f20" stroke-width="0.1" >2</text>
<text x="378.80" y="202.75" font-size="9" text-anchor="middle" fill="#231f20" stroke="#231f20" stroke-width="0.4" textLength="38.1" lengthAdjust="spacingAndGlyphs" transform="rotate(-90 378.80 202.75)" >% Gated cells</text>
<text x="440.50" y="266.50" font-size="9" text-anchor="middle" fill="#231f20" stroke="#231f20" stroke-width="0.4" textLength="35.6" lengthAdjust="spacingAndGlyphs" >Cell divisions</text>
<circle cx="401.80" cy="163.60" r="1.75" fill="#fff" stroke="#231f20" stroke-width="0.9" />
<text x="405.60" y="166.10" font-size="7.2" text-anchor="start" fill="#231f20" stroke="#231f20" stroke-width="0.1" >CTRLsh</text>
<circle cx="436.20" cy="163.60" r="1.75" fill="#fff" stroke="#29a9e0" stroke-width="0.9" />
<text x="439.40" y="166.10" font-size="7.2" text-anchor="start" fill="#231f20" stroke="#231f20" stroke-width="0.1" >SUPT20Hsh</text>
<circle cx="484.40" cy="163.60" r="1.75" fill="#fff" stroke="#006e4f" stroke-width="0.9" />
<text x="487.60" y="166.10" font-size="7.2" text-anchor="start" fill="#231f20" stroke="#231f20" stroke-width="0.1" >ZZZ3sh</text>
<rect x="399.20" y="218.17" width="7.00" height="25.03" fill="#000000" />
<circle cx="400.90" cy="217.93" r="1.60" fill="#fff" stroke="#231f20" stroke-width="0.9" />
<circle cx="404.50" cy="217.93" r="1.60" fill="#fff" stroke="#231f20" stroke-width="0.9" />
<line x1="410.65" y1="206.05" x2="410.65" y2="198.79" stroke="#29a9e0" stroke-width="0.8" />
<line x1="409.35" y1="198.79" x2="411.95" y2="198.79" stroke="#29a9e0" stroke-width="0.8" />
<rect x="407.50" y="206.05" width="6.30" height="37.15" fill="#29a9e0" />
<circle cx="410.65" cy="211.30" r="1.20" fill="#fff" stroke="none" stroke-width="0" />
<circle cx="410.65" cy="200.00" r="1.60" fill="#fff" stroke="#29a9e0" stroke-width="0.9" />
<line x1="418.35" y1="197.17" x2="418.35" y2="193.13" stroke="#006e4f" stroke-width="0.8" />
<line x1="417.05" y1="193.13" x2="419.65" y2="193.13" stroke="#006e4f" stroke-width="0.8" />
<rect x="415.20" y="197.17" width="6.30" height="46.03" fill="#006e4f" />
<circle cx="418.35" cy="200.81" r="1.20" fill="#fff" stroke="none" stroke-width="0" />
<circle cx="418.35" cy="193.30" r="1.60" fill="#fff" stroke="#006e4f" stroke-width="0.9" />
<rect x="429.20" y="213.32" width="7.10" height="29.88" fill="#000000" />
<circle cx="430.90" cy="213.08" r="1.60" fill="#fff" stroke="#231f20" stroke-width="0.9" />
<circle cx="434.60" cy="213.08" r="1.60" fill="#fff" stroke="#231f20" stroke-width="0.9" />
<line x1="440.40" y1="217.36" x2="440.40" y2="212.11" stroke="#29a9e0" stroke-width="0.8" />
<line x1="439.10" y1="212.11" x2="441.70" y2="212.11" stroke="#29a9e0" stroke-width="0.8" />
<rect x="437.30" y="217.36" width="6.20" height="25.84" fill="#29a9e0" />
<circle cx="440.40" cy="220.99" r="1.20" fill="#fff" stroke="none" stroke-width="0" />
<circle cx="440.40" cy="212.11" r="1.60" fill="#fff" stroke="#29a9e0" stroke-width="0.9" />
<line x1="448.10" y1="227.05" x2="448.10" y2="224.63" stroke="#006e4f" stroke-width="0.8" />
<line x1="446.80" y1="224.63" x2="449.40" y2="224.63" stroke="#006e4f" stroke-width="0.8" />
<rect x="445.00" y="227.05" width="6.20" height="16.15" fill="#006e4f" />
<circle cx="448.10" cy="224.63" r="1.60" fill="#fff" stroke="#006e4f" stroke-width="0.9" />
<circle cx="448.10" cy="228.83" r="1.20" fill="#fff" stroke="none" stroke-width="0" />
<rect x="459.40" y="240.29" width="6.40" height="2.91" fill="#000000" />
<circle cx="461.00" cy="240.29" r="1.60" fill="#fff" stroke="#231f20" stroke-width="0.9" />
<circle cx="464.30" cy="240.29" r="1.60" fill="#fff" stroke="#231f20" stroke-width="0.9" />
<circle cx="468.20" cy="242.60" r="1.60" fill="#fff" stroke="#29a9e0" stroke-width="0.9" />
<circle cx="472.00" cy="242.60" r="1.60" fill="#fff" stroke="#29a9e0" stroke-width="0.9" />
<circle cx="475.80" cy="242.60" r="1.60" fill="#fff" stroke="#006e4f" stroke-width="0.9" />
<circle cx="479.80" cy="242.60" r="1.60" fill="#fff" stroke="#006e4f" stroke-width="0.9" />
<line x1="400.00" y1="185.40" x2="421.60" y2="185.40" stroke="#231f20" stroke-width="0.8" />
<text x="410.40" y="184.60" font-size="7" text-anchor="middle" fill="#231f20" stroke="#231f20" stroke-width="0.1" >*</text>
<line x1="459.40" y1="229.20" x2="472.90" y2="229.20" stroke="#231f20" stroke-width="0.8" />
<text x="466.30" y="228.40" font-size="7" text-anchor="middle" fill="#231f20" stroke="#231f20" stroke-width="0.1" >*</text>
<line x1="459.40" y1="235.60" x2="464.60" y2="235.60" stroke="#231f20" stroke-width="0.8" />
<text x="462.10" y="234.80" font-size="7" text-anchor="middle" fill="#231f20" stroke="#231f20" stroke-width="0.1" >*</text>
<line x1="48.80" y1="385.80" x2="48.80" y2="350.40" stroke="#231f20" stroke-width="0.9" />
<line x1="48.80" y1="346.20" x2="48.80" y2="305.00" stroke="#231f20" stroke-width="0.9" />
<line x1="46.60" y1="346.20" x2="50.00" y2="346.20" stroke="#231f20" stroke-width="0.9" />
<line x1="46.60" y1="350.60" x2="50.00" y2="350.60" stroke="#231f20" stroke-width="0.9" />
<line x1="46.00" y1="385.40" x2="48.80" y2="385.40" stroke="#231f20" stroke-width="0.8" />
<text x="43.40" y="388.00" font-size="7.4" text-anchor="end" fill="#231f20" stroke="#231f20" stroke-width="0.1" >0.0</text>
<line x1="46.00" y1="368.30" x2="48.80" y2="368.30" stroke="#231f20" stroke-width="0.8" />
<text x="43.40" y="370.90" font-size="7.4" text-anchor="end" fill="#231f20" stroke="#231f20" stroke-width="0.1" >0.5</text>
<line x1="46.00" y1="351.20" x2="48.80" y2="351.20" stroke="#231f20" stroke-width="0.8" />
<text x="43.40" y="353.80" font-size="7.4" text-anchor="end" fill="#231f20" stroke="#231f20" stroke-width="0.1" >1.0</text>
<line x1="46.00" y1="341.20" x2="48.80" y2="341.20" stroke="#231f20" stroke-width="0.8" />
<text x="43.40" y="343.80" font-size="7.4" text-anchor="end" fill="#231f20" stroke="#231f20" stroke-width="0.1" >2.0</text>
<line x1="46.00" y1="331.30" x2="48.80" y2="331.30" stroke="#231f20" stroke-width="0.8" />
<text x="43.40" y="333.90" font-size="7.4" text-anchor="end" fill="#231f20" stroke="#231f20" stroke-width="0.1" >4.0</text>
<line x1="46.00" y1="321.40" x2="48.80" y2="321.40" stroke="#231f20" stroke-width="0.8" />
<text x="43.40" y="324.00" font-size="7.4" text-anchor="end" fill="#231f20" stroke="#231f20" stroke-width="0.1" >6.0</text>
<line x1="46.00" y1="311.50" x2="48.80" y2="311.50" stroke="#231f20" stroke-width="0.8" />
<text x="43.40" y="314.10" font-size="7.4" text-anchor="end" fill="#231f20" stroke="#231f20" stroke-width="0.1" >8.0</text>
<line x1="48.80" y1="385.40" x2="137.00" y2="385.40" stroke="#231f20" stroke-width="0.9" />
<line x1="70.60" y1="385.40" x2="70.60" y2="387.60" stroke="#231f20" stroke-width="0.8" />
<text x="70.60" y="396.60" font-size="7.4" text-anchor="middle" fill="#231f20" stroke="#231f20" stroke-width="0.1" >Plate 1</text>
<line x1="116.50" y1="385.40" x2="116.50" y2="387.60" stroke="#231f20" stroke-width="0.8" />
<text x="116.50" y="396.60" font-size="7.4" text-anchor="middle" fill="#231f20" stroke="#231f20" stroke-width="0.1" >Plate 2</text>
<text x="14.20" y="348.40" font-size="8.6" text-anchor="middle" fill="#231f20" stroke="#231f20" stroke-width="0.35" textLength="41.2" lengthAdjust="spacingAndGlyphs" transform="rotate(-90 14.20 348.40)" >CFC efficiency</text>
<text x="26.00" y="349.30" font-size="8.6" text-anchor="middle" fill="#231f20" stroke="#231f20" stroke-width="0.35" textLength="56.6" lengthAdjust="spacingAndGlyphs" transform="rotate(-90 26.00 349.30)" >(relative to CTRLSh)</text>
<circle cx="140.10" cy="305.50" r="1.75" fill="#fff" stroke="#231f20" stroke-width="0.9" />
<text x="144.8" y="308.00" font-size="7.2" fill="#231f20">CTRL<tspan font-style="italic">sh</tspan></text>
<circle cx="140.10" cy="315.92" r="1.75" fill="#fff" stroke="#29a9e0" stroke-width="0.9" />
<text x="144.8" y="318.42" font-size="7.2" fill="#231f20">SUPT20H<tspan font-style="italic">sh</tspan></text>
<circle cx="140.10" cy="326.34" r="1.75" fill="#fff" stroke="#1d5b96" stroke-width="0.9" />
<text x="144.8" y="328.84" font-size="7.2" fill="#231f20">SUPT20H<tspan font-style="italic">sh2</tspan></text>
<circle cx="140.10" cy="336.76" r="1.75" fill="#fff" stroke="#ec008c" stroke-width="0.9" />
<text x="144.8" y="339.26" font-size="7.2" fill="#231f20">TADA2A<tspan font-style="italic">sh</tspan></text>
<circle cx="140.10" cy="347.18" r="1.75" fill="#fff" stroke="#c1272d" stroke-width="0.9" />
<text x="144.8" y="349.68" font-size="7.2" fill="#231f20">TADA2A<tspan font-style="italic">sh2</tspan></text>
<rect x="51.90" y="351.20" width="6.40" height="34.20" fill="#000000" />
<circle cx="53.00" cy="342.70" r="1.60" fill="#fff" stroke="#231f20" stroke-width="0.9" />
<circle cx="56.40" cy="345.20" r="1.60" fill="#fff" stroke="#231f20" stroke-width="0.9" />
<circle cx="53.00" cy="350.80" r="1.60" fill="#fff" stroke="#231f20" stroke-width="0.9" />
<circle cx="56.40" cy="352.30" r="1.60" fill="#fff" stroke="#231f20" stroke-width="0.9" />
<circle cx="55.10" cy="371.00" r="1.20" fill="#fff" stroke="none" stroke-width="0" />
<rect x="60.20" y="361.46" width="5.80" height="23.94" fill="#29a9e0" />
<line x1="63.10" y1="361.30" x2="63.10" y2="355.00" stroke="#29a9e0" stroke-width="0.8" />
<line x1="61.80" y1="355.00" x2="64.40" y2="355.00" stroke="#29a9e0" stroke-width="0.8" />
<circle cx="63.10" cy="355.00" r="1.60" fill="#fff" stroke="#29a9e0" stroke-width="0.9" />
<circle cx="63.10" cy="366.70" r="1.20" fill="#fff" stroke="none" stroke-width="0" />
<rect x="67.50" y="352.57" width="6.20" height="32.83" fill="#1d5b96" />
<circle cx="70.60" cy="345.00" r="1.60" fill="#fff" stroke="#1d5b96" stroke-width="0.9" />
<circle cx="70.60" cy="355.60" r="1.20" fill="#fff" stroke="none" stroke-width="0" />
<rect x="75.20" y="351.20" width="6.70" height="34.20" fill="#ec008c" />
<line x1="78.55" y1="344.60" x2="78.55" y2="338.00" stroke="#ec008c" stroke-width="0.8" />
<line x1="76.60" y1="344.60" x2="80.50" y2="344.60" stroke="#ec008c" stroke-width="0.9" />
<circle cx="78.55" cy="337.70" r="1.60" fill="#fff" stroke="#ec008c" stroke-width="0.9" />
<circle cx="78.55" cy="360.40" r="1.20" fill="#fff" stroke="none" stroke-width="0" />
<circle cx="78.55" cy="367.70" r="1.20" fill="#fff" stroke="none" stroke-width="0" />
<rect x="83.30" y="367.27" width="6.30" height="18.13" fill="#c1272d" />
<line x1="86.45" y1="367.10" x2="86.45" y2="355.60" stroke="#c1272d" stroke-width="0.8" />
<line x1="85.15" y1="355.60" x2="87.75" y2="355.60" stroke="#c1272d" stroke-width="0.8" />
<circle cx="86.45" cy="358.50" r="1.60" fill="#fff" stroke="#c1272d" stroke-width="0.9" />
<circle cx="86.45" cy="374.20" r="1.20" fill="#fff" stroke="none" stroke-width="0" />
<rect x="97.30" y="351.20" width="6.50" height="34.20" fill="#000000" />
<circle cx="98.60" cy="343.00" r="1.60" fill="#fff" stroke="#231f20" stroke-width="0.9" />
<circle cx="101.60" cy="343.60" r="1.60" fill="#fff" stroke="#231f20" stroke-width="0.9" />
<circle cx="99.60" cy="345.60" r="1.60" fill="#fff" stroke="#231f20" stroke-width="0.9" />
<circle cx="100.60" cy="350.80" r="1.60" fill="#fff" stroke="#231f20" stroke-width="0.9" />
<circle cx="100.60" cy="355.60" r="1.20" fill="#fff" stroke="none" stroke-width="0" />
<circle cx="100.60" cy="361.30" r="1.20" fill="#fff" stroke="none" stroke-width="0" />
<circle cx="100.60" cy="366.70" r="1.20" fill="#fff" stroke="none" stroke-width="0" />
<rect x="105.80" y="350.90" width="6.30" height="34.50" fill="#29a9e0" />
<rect x="105.80" y="331.80" width="6.30" height="12.81" fill="#29a9e0" />
<line x1="108.95" y1="331.50" x2="108.95" y2="326.70" stroke="#29a9e0" stroke-width="0.8" />
<line x1="107.65" y1="326.70" x2="110.25" y2="326.70" stroke="#29a9e0" stroke-width="0.8" />
<circle cx="108.95" cy="326.70" r="1.60" fill="#fff" stroke="#29a9e0" stroke-width="0.9" />
<circle cx="108.95" cy="334.40" r="1.20" fill="#fff" stroke="none" stroke-width="0" />
<line x1="115.40" y1="345.60" x2="117.80" y2="345.60" stroke="#1d5b96" stroke-width="0.9" />
<rect x="113.50" y="359.07" width="6.30" height="26.33" fill="#1d5b96" />
<line x1="116.65" y1="359.00" x2="116.65" y2="353.00" stroke="#1d5b96" stroke-width="0.8" />
<line x1="115.35" y1="353.00" x2="117.95" y2="353.00" stroke="#1d5b96" stroke-width="0.8" />
<circle cx="116.65" cy="353.00" r="1.60" fill="#fff" stroke="#1d5b96" stroke-width="0.9" />
<circle cx="116.65" cy="363.80" r="1.20" fill="#fff" stroke="none" stroke-width="0" />
<rect x="121.20" y="369.67" width="6.30" height="15.73" fill="#ec008c" />
<line x1="124.35" y1="369.60" x2="124.35" y2="361.30" stroke="#ec008c" stroke-width="0.8" />
<line x1="123.05" y1="361.30" x2="125.65" y2="361.30" stroke="#ec008c" stroke-width="0.8" />
<circle cx="124.35" cy="361.30" r="1.60" fill="#fff" stroke="#ec008c" stroke-width="0.9" />
<circle cx="124.35" cy="374.80" r="1.20" fill="#fff" stroke="none" stroke-width="0" />
<rect x="129.00" y="376.17" width="6.20" height="9.23" fill="#c1272d" />
<line x1="132.10" y1="376.20" x2="132.10" y2="371.00" stroke="#c1272d" stroke-width="0.8" />
<line x1="130.80" y1="371.00" x2="133.40" y2="371.00" stroke="#c1272d" stroke-width="0.8" />
<circle cx="132.10" cy="371.00" r="1.60" fill="#fff" stroke="#c1272d" stroke-width="0.9" />
<circle cx="132.10" cy="380.00" r="1.20" fill="#fff" stroke="none" stroke-width="0" />
<path d="M100.50,313.80 V311.80 H123.90 V313.80" fill="none" stroke="#231f20" stroke-width="0.8" />
<text x="112.20" y="311.00" font-size="7" text-anchor="middle" fill="#231f20" stroke="#231f20" stroke-width="0.1" >*</text>
<path d="M100.50,324.20 V322.20 H132.20 V324.20" fill="none" stroke="#231f20" stroke-width="0.8" />
<text x="116.35" y="321.40" font-size="7" text-anchor="middle" fill="#231f20" stroke="#231f20" stroke-width="0.1" >*</text>
<line x1="238.90" y1="301.20" x2="238.90" y2="385.40" stroke="#231f20" stroke-width="0.9" />
<line x1="236.10" y1="385.00" x2="238.90" y2="385.00" stroke="#231f20" stroke-width="0.8" />
<text x="233.70" y="387.60" font-size="7.4" text-anchor="end" fill="#231f20" stroke="#231f20" stroke-width="0.1" >0.0</text>
<line x1="236.10" y1="365.80" x2="238.90" y2="365.80" stroke="#231f20" stroke-width="0.8" />
<text x="233.70" y="368.40" font-size="7.4" text-anchor="end" fill="#231f20" stroke="#231f20" stroke-width="0.1" >0.5</text>
<line x1="236.10" y1="346.60" x2="238.90" y2="346.60" stroke="#231f20" stroke-width="0.8" />
<text x="233.70" y="349.20" font-size="7.4" text-anchor="end" fill="#231f20" stroke="#231f20" stroke-width="0.1" >1.0</text>
<line x1="236.10" y1="327.40" x2="238.90" y2="327.40" stroke="#231f20" stroke-width="0.8" />
<text x="233.70" y="330.00" font-size="7.4" text-anchor="end" fill="#231f20" stroke="#231f20" stroke-width="0.1" >1.5</text>
<line x1="236.10" y1="308.20" x2="238.90" y2="308.20" stroke="#231f20" stroke-width="0.8" />
<text x="233.70" y="310.80" font-size="7.4" text-anchor="end" fill="#231f20" stroke="#231f20" stroke-width="0.1" >2.0</text>
<line x1="238.90" y1="385.00" x2="342.70" y2="385.00" stroke="#231f20" stroke-width="0.9" />
<line x1="262.50" y1="385.00" x2="262.50" y2="387.20" stroke="#231f20" stroke-width="0.8" />
<text x="262.50" y="397.20" font-size="7.4" text-anchor="middle" fill="#231f20" stroke="#231f20" stroke-width="0.1" >Blasts</text>
<line x1="313.00" y1="385.00" x2="313.00" y2="387.20" stroke="#231f20" stroke-width="0.8" />
<text x="313.00" y="397.20" font-size="7.4" text-anchor="middle" fill="#231f20" stroke="#231f20" stroke-width="0.1" >Differentiated</text>
<text x="216.60" y="346.65" font-size="9" text-anchor="middle" fill="#231f20" stroke="#231f20" stroke-width="0.4" textLength="40.3" lengthAdjust="spacingAndGlyphs" transform="rotate(-90 216.60 346.65)" >Cell proportion</text>
<circle cx="242.80" cy="303.80" r="1.75" fill="#fff" stroke="#f7941d" stroke-width="0.9" />
<text x="247.00" y="306.30" font-size="7" text-anchor="start" fill="#231f20" stroke="#231f20" stroke-width="0.1" >KAT2Ash</text>
<circle cx="280.20" cy="303.80" r="1.75" fill="#fff" stroke="#29a9e0" stroke-width="0.9" />
<text x="284.60" y="306.30" font-size="7" text-anchor="start" fill="#231f20" stroke="#231f20" stroke-width="0.1" >SUPT20Hsh</text>
<circle cx="328.80" cy="303.80" r="1.75" fill="#fff" stroke="#006e4f" stroke-width="0.9" />
<text x="333.00" y="306.30" font-size="7" text-anchor="start" fill="#231f20" stroke="#231f20" stroke-width="0.1" >ZZZ3sh</text>
<rect x="243.10" y="361.96" width="5.70" height="23.04" fill="#000000" />
<circle cx="244.45" cy="361.58" r="1.75" fill="#fff" stroke="#231f20" stroke-width="0.85" />
<circle cx="247.45" cy="361.58" r="1.75" fill="#fff" stroke="#231f20" stroke-width="0.85" />
<circle cx="245.95" cy="360.81" r="1.75" fill="#fff" stroke="#231f20" stroke-width="0.85" />
<rect x="253.80" y="377.32" width="6.20" height="7.68" fill="#f7941d" />
<circle cx="255.30" cy="375.78" r="1.75" fill="#fff" stroke="#f7941d" stroke-width="0.85" />
<circle cx="258.50" cy="376.94" r="1.75" fill="#fff" stroke="#f7941d" stroke-width="0.85" />
<circle cx="256.90" cy="379.24" r="1.20" fill="#fff" stroke="none" stroke-width="0" />
<rect x="264.80" y="378.09" width="6.40" height="6.91" fill="#29a9e0" />
<circle cx="268.00" cy="374.63" r="1.75" fill="#fff" stroke="#29a9e0" stroke-width="0.85" />
<circle cx="268.00" cy="377.70" r="1.75" fill="#fff" stroke="#29a9e0" stroke-width="0.85" />
<circle cx="268.00" cy="380.78" r="1.20" fill="#fff" stroke="none" stroke-width="0" />
<rect x="275.40" y="361.19" width="6.70" height="23.81" fill="#006e4f" />
<circle cx="277.15" cy="360.81" r="1.75" fill="#fff" stroke="#006e4f" stroke-width="0.85" />
<circle cx="280.35" cy="360.42" r="1.75" fill="#fff" stroke="#006e4f" stroke-width="0.85" />
<circle cx="278.75" cy="360.04" r="1.75" fill="#fff" stroke="#006e4f" stroke-width="0.85" />
<rect x="293.70" y="371.56" width="6.10" height="13.44" fill="#000000" />
<circle cx="295.25" cy="371.18" r="1.75" fill="#fff" stroke="#231f20" stroke-width="0.85" />
<circle cx="298.25" cy="371.18" r="1.75" fill="#fff" stroke="#231f20" stroke-width="0.85" />
<circle cx="296.75" cy="370.41" r="1.75" fill="#fff" stroke="#231f20" stroke-width="0.85" />
<rect x="304.20" y="355.05" width="6.80" height="29.95" fill="#f7941d" />
<circle cx="306.00" cy="354.28" r="1.75" fill="#fff" stroke="#f7941d" stroke-width="0.85" />
<circle cx="309.20" cy="355.05" r="1.75" fill="#fff" stroke="#f7941d" stroke-width="0.85" />
<circle cx="307.60" cy="353.51" r="1.75" fill="#fff" stroke="#f7941d" stroke-width="0.85" />
<rect x="314.80" y="355.05" width="6.70" height="29.95" fill="#29a9e0" />
<circle cx="318.15" cy="351.59" r="1.75" fill="#fff" stroke="#29a9e0" stroke-width="0.85" />
<circle cx="318.15" cy="354.28" r="1.75" fill="#fff" stroke="#29a9e0" stroke-width="0.85" />
<circle cx="318.15" cy="357.35" r="1.20" fill="#fff" stroke="none" stroke-width="0" />
<rect x="326.30" y="371.94" width="6.40" height="13.06" fill="#006e4f" />
<circle cx="327.90" cy="372.33" r="1.75" fill="#fff" stroke="#006e4f" stroke-width="0.85" />
<circle cx="331.10" cy="371.94" r="1.75" fill="#fff" stroke="#006e4f" stroke-width="0.85" />
<circle cx="329.50" cy="370.79" r="1.75" fill="#fff" stroke="#006e4f" stroke-width="0.85" />
<path d="M256.20,315.80 V313.80 H278.80 V315.80" fill="none" stroke="#231f20" stroke-width="0.8" />
<text x="268.10" y="313.20" font-size="7" text-anchor="middle" fill="#231f20" stroke="#231f20" stroke-width="0.1" >*</text>
<path d="M245.60,324.90 V322.90 H268.10 V324.90" fill="none" stroke="#231f20" stroke-width="0.8" />
<text x="257.10" y="322.30" font-size="7" text-anchor="middle" fill="#231f20" stroke="#231f20" stroke-width="0.1" >*</text>
<path d="M245.60,333.90 V331.90 H257.70 V333.90" fill="none" stroke="#231f20" stroke-width="0.8" />
<text x="251.70" y="331.30" font-size="7" text-anchor="middle" fill="#231f20" stroke="#231f20" stroke-width="0.1" >**</text>
<path d="M267.30,333.90 V331.90 H279.20 V333.90" fill="none" stroke="#231f20" stroke-width="0.8" />
<text x="273.20" y="331.30" font-size="7" text-anchor="middle" fill="#231f20" stroke="#231f20" stroke-width="0.1" >*</text>
<path d="M296.20,315.80 V313.80 H318.70 V315.80" fill="none" stroke="#231f20" stroke-width="0.8" />
<text x="307.50" y="313.20" font-size="7" text-anchor="middle" fill="#231f20" stroke="#231f20" stroke-width="0.1" >*</text>
<path d="M307.70,324.90 V322.90 H330.20 V324.90" fill="none" stroke="#231f20" stroke-width="0.8" />
<text x="319.00" y="322.30" font-size="7" text-anchor="middle" fill="#231f20" stroke="#231f20" stroke-width="0.1" >*</text>
<path d="M296.20,333.90 V331.90 H307.70 V333.90" fill="none" stroke="#231f20" stroke-width="0.8" />
<text x="302.00" y="331.30" font-size="7" text-anchor="middle" fill="#231f20" stroke="#231f20" stroke-width="0.1" >**</text>
<path d="M318.00,333.90 V331.90 H330.20 V333.90" fill="none" stroke="#231f20" stroke-width="0.8" />
<text x="324.10" y="331.30" font-size="7" text-anchor="middle" fill="#231f20" stroke="#231f20" stroke-width="0.1" >*</text>
<line x1="409.60" y1="301.20" x2="409.60" y2="386.00" stroke="#231f20" stroke-width="0.9" />
<line x1="406.80" y1="385.60" x2="409.60" y2="385.60" stroke="#231f20" stroke-width="0.8" />
<text x="404.00" y="388.20" font-size="7.4" text-anchor="end" fill="#231f20" stroke="#231f20" stroke-width="0.1" >0</text>
<line x1="406.80" y1="359.45" x2="409.60" y2="359.45" stroke="#231f20" stroke-width="0.8" />
<text x="404.00" y="362.05" font-size="7.4" text-anchor="end" fill="#231f20" stroke="#231f20" stroke-width="0.1" >20</text>
<line x1="406.80" y1="333.30" x2="409.60" y2="333.30" stroke="#231f20" stroke-width="0.8" />
<text x="404.00" y="335.90" font-size="7.4" text-anchor="end" fill="#231f20" stroke="#231f20" stroke-width="0.1" >40</text>
<line x1="406.80" y1="307.15" x2="409.60" y2="307.15" stroke="#231f20" stroke-width="0.8" />
<text x="404.00" y="309.75" font-size="7.4" text-anchor="end" fill="#231f20" stroke="#231f20" stroke-width="0.1" >60</text>
<line x1="409.60" y1="385.60" x2="479.40" y2="385.60" stroke="#231f20" stroke-width="0.9" />
<text x="388.40" y="344.70" font-size="8.6" text-anchor="middle" fill="#231f20" stroke="#231f20" stroke-width="0.3" textLength="77.6" lengthAdjust="spacingAndGlyphs" transform="rotate(-90 388.40 344.70)" >% Apoptotic cells (annexin V)</text>
<line x1="439.20" y1="388.60" x2="453.80" y2="388.60" stroke="#666" stroke-width="1.0" />
<line x1="459.70" y1="388.60" x2="474.60" y2="388.60" stroke="#666" stroke-width="1.0" />
<text x="444.40" y="397.40" font-size="7.6" text-anchor="middle" fill="#231f20" stroke="#231f20" stroke-width="0.1" font-style="italic" textLength="20.4" lengthAdjust="spacingAndGlyphs" >SAGA</text>
<text x="467.40" y="397.40" font-size="7.6" text-anchor="middle" fill="#231f20" stroke="#231f20" stroke-width="0.1" font-style="italic" textLength="18.3" lengthAdjust="spacingAndGlyphs" >ATAC</text>
<circle cx="466.20" cy="305.20" r="1.75" fill="#fff" stroke="#231f20" stroke-width="0.9" />
<text x="470.80" y="307.70" font-size="7.2" text-anchor="start" fill="#231f20" stroke="#231f20" stroke-width="0.1" >CTRLsh</text>
<circle cx="466.20" cy="316.28" r="1.75" fill="#fff" stroke="#f7941d" stroke-width="0.9" />
<text x="470.80" y="318.78" font-size="7.2" text-anchor="start" fill="#231f20" stroke="#231f20" stroke-width="0.1" >KAT2Ash</text>
<circle cx="466.20" cy="327.36" r="1.75" fill="#fff" stroke="#29a9e0" stroke-width="0.9" />
<text x="470.80" y="329.86" font-size="7.2" text-anchor="start" fill="#231f20" stroke="#231f20" stroke-width="0.1" >SUPT20Hsh</text>
<circle cx="466.20" cy="338.44" r="1.75" fill="#fff" stroke="#652d8e" stroke-width="0.9" />
<text x="470.80" y="340.94" font-size="7.2" text-anchor="start" fill="#231f20" stroke="#231f20" stroke-width="0.1" >TADA2Bsh</text>
<circle cx="466.20" cy="349.52" r="1.75" fill="#fff" stroke="#006e4f" stroke-width="0.9" />
<text x="470.80" y="352.02" font-size="7.2" text-anchor="start" fill="#231f20" stroke="#231f20" stroke-width="0.1" >ZZZ3sh</text>
<circle cx="466.20" cy="360.60" r="1.75" fill="#fff" stroke="#c1272d" stroke-width="0.9" />
<text x="470.80" y="363.10" font-size="7.2" text-anchor="start" fill="#231f20" stroke="#231f20" stroke-width="0.1" >TADA2Ash</text>
<rect x="410.50" y="375.66" width="6.10" height="9.94" fill="#000000" />
<line x1="413.60" y1="375.66" x2="413.60" y2="360.50" stroke="#444" stroke-width="0.7" />
<circle cx="413.80" cy="348.86" r="1.60" fill="#fff" stroke="#231f20" stroke-width="0.9" />
<circle cx="413.60" cy="360.50" r="1.60" fill="#fff" stroke="#231f20" stroke-width="0.9" />
<circle cx="411.90" cy="379.32" r="1.60" fill="#fff" stroke="#231f20" stroke-width="0.9" />
<circle cx="415.00" cy="381.55" r="1.60" fill="#fff" stroke="#231f20" stroke-width="0.9" />
<circle cx="411.90" cy="383.90" r="1.60" fill="#fff" stroke="#231f20" stroke-width="0.9" />
<circle cx="415.20" cy="384.03" r="1.60" fill="#fff" stroke="#231f20" stroke-width="0.9" />
<rect x="424.90" y="352.52" width="5.90" height="33.08" fill="#f7941d" />
<line x1="427.85" y1="352.52" x2="427.85" y2="346.38" stroke="#f7941d" stroke-width="0.8" />
<circle cx="427.85" cy="345.98" r="1.60" fill="#fff" stroke="#f7941d" stroke-width="0.9" />
<circle cx="427.85" cy="351.21" r="1.60" fill="#fff" stroke="#f7941d" stroke-width="0.9" />
<circle cx="427.85" cy="358.14" r="1.20" fill="#fff" stroke="none" stroke-width="0" />
<line x1="441.90" y1="363.37" x2="441.90" y2="332.78" stroke="#29a9e0" stroke-width="0.8" />
<path d="M440.3,332.78 L443.5,332.78 L441.9,334.98 Z" fill="#29a9e0"/>
<rect x="439.20" y="363.37" width="5.70" height="22.23" fill="#29a9e0" />
<circle cx="441.90" cy="318.92" r="1.60" fill="#fff" stroke="#29a9e0" stroke-width="0.9" />
<circle cx="441.90" cy="342.98" r="1.60" fill="#fff" stroke="#29a9e0" stroke-width="0.9" />
<circle cx="440.30" cy="382.72" r="1.60" fill="#fff" stroke="#29a9e0" stroke-width="0.9" />
<circle cx="443.80" cy="382.99" r="1.60" fill="#fff" stroke="#29a9e0" stroke-width="0.9" />
<rect x="446.20" y="382.59" width="6.20" height="3.01" fill="#652d8e" />
<circle cx="447.60" cy="380.89" r="1.60" fill="#fff" stroke="#652d8e" stroke-width="0.9" />
<circle cx="449.60" cy="382.72" r="1.60" fill="#fff" stroke="#652d8e" stroke-width="0.9" />
<circle cx="451.50" cy="381.15" r="1.60" fill="#fff" stroke="#652d8e" stroke-width="0.9" />
<rect x="460.30" y="381.02" width="6.20" height="4.58" fill="#006e4f" />
<circle cx="461.60" cy="377.62" r="1.60" fill="#fff" stroke="#006e4f" stroke-width="0.9" />
<circle cx="465.30" cy="378.80" r="1.60" fill="#fff" stroke="#006e4f" stroke-width="0.9" />
<circle cx="463.40" cy="383.12" r="1.20" fill="#fff" stroke="none" stroke-width="0" />
<rect x="467.40" y="382.33" width="6.00" height="3.27" fill="#c1272d" />
<circle cx="468.60" cy="381.29" r="1.60" fill="#fff" stroke="#c1272d" stroke-width="0.9" />
<circle cx="471.00" cy="379.85" r="1.60" fill="#fff" stroke="#c1272d" stroke-width="0.9" />
<circle cx="472.40" cy="383.51" r="1.60" fill="#fff" stroke="#c1272d" stroke-width="0.9" />
<text x="98.80" y="429.50" font-size="8.9" text-anchor="middle" fill="#1a1a1a" stroke="#1a1a1a" stroke-width="0.05" >CTRLsh</text>
<clipPath id="clip0"><rect x="45.00" y="434.00" width="108.30" height="80.60"/></clipPath>
<g clip-path="url(#clip0)">
<rect x="45.00" y="434.00" width="108.30" height="80.60" fill="#efe7da" />
<g filter="url(#soft)">
<circle cx="96.50" cy="444.00" r="11.00" fill="url(#gp2)"/>
<circle cx="55.00" cy="488.00" r="12.00" fill="url(#gp2)"/>
<circle cx="83.00" cy="495.00" r="10.00" fill="url(#gp2)"/>
<circle cx="123.00" cy="504.00" r="12.50" fill="url(#gp2)"/>
<circle cx="111.00" cy="474.00" r="12.00" fill="url(#gp2)"/>
<circle cx="119.00" cy="462.00" r="7.00" fill="url(#gp2)"/>
<circle cx="92.00" cy="482.00" r="9.00" fill="url(#gp2)"/>
<circle cx="102.00" cy="489.00" r="9.00" fill="url(#gp2)"/>
<circle cx="71.00" cy="484.00" r="8.00" fill="url(#gp2)"/>
<circle cx="59.00" cy="500.00" r="8.00" fill="url(#gp2)"/>
<circle cx="87.00" cy="446.00" r="7.00" fill="url(#gp2)"/>
<circle cx="48.10" cy="480.60" r="7.25" fill="url(#gp)"/>
<circle cx="82.30" cy="445.70" r="4.35" fill="url(#gp)"/>
<circle cx="101.00" cy="472.80" r="7.25" fill="url(#gp)"/>
<circle cx="50.40" cy="441.80" r="7.44" fill="url(#gd2)"/>
<circle cx="61.30" cy="436.30" r="6.48" fill="url(#gd2)"/>
<circle cx="76.90" cy="435.20" r="6.48" fill="url(#gd2)"/>
<circle cx="46.20" cy="450.00" r="3.60" fill="url(#gd2)"/>
<circle cx="80.00" cy="462.70" r="7.44" fill="url(#gd2)"/>
<circle cx="90.00" cy="455.80" r="6.48" fill="url(#gd2)"/>
<circle cx="85.40" cy="465.00" r="5.64" fill="url(#gd2)"/>
<circle cx="96.30" cy="464.30" r="5.64" fill="url(#gd2)"/>
<circle cx="59.80" cy="476.00" r="5.64" fill="url(#gd2)"/>
<circle cx="74.50" cy="475.20" r="7.80" fill="url(#gl)"/>
<circle cx="90.00" cy="476.00" r="6.48" fill="url(#gd2)"/>
<circle cx="70.60" cy="486.80" r="5.28" fill="url(#gd2)"/>
<circle cx="87.70" cy="493.00" r="5.64" fill="url(#gd2)"/>
<circle cx="59.00" cy="500.80" r="5.28" fill="url(#gd2)"/>
<circle cx="49.70" cy="510.10" r="6.48" fill="url(#gd2)"/>
<circle cx="62.10" cy="510.10" r="4.68" fill="url(#gd2)"/>
<circle cx="73.70" cy="511.70" r="5.28" fill="url(#gd2)"/>
<circle cx="87.00" cy="506.20" r="6.48" fill="url(#gd2)"/>
<circle cx="96.30" cy="511.70" r="3.72" fill="url(#gd2)"/>
<circle cx="46.50" cy="490.00" r="2.76" fill="url(#gd2)"/>
<circle cx="108.90" cy="435.60" r="6.48" fill="url(#gd2)"/>
<circle cx="122.10" cy="437.90" r="4.68" fill="url(#gd2)"/>
<circle cx="133.70" cy="435.60" r="5.64" fill="url(#gd2)"/>
<circle cx="147.70" cy="437.10" r="5.64" fill="url(#gd2)"/>
<circle cx="110.40" cy="452.60" r="8.40" fill="url(#gl)"/>
<circle cx="121.30" cy="445.70" r="5.28" fill="url(#gd2)"/>
<circle cx="122.90" cy="453.40" r="5.64" fill="url(#gd2)"/>
<circle cx="134.50" cy="443.30" r="7.08" fill="url(#gd2)"/>
<circle cx="146.20" cy="446.40" r="6.48" fill="url(#gd2)"/>
<circle cx="133.70" cy="453.40" r="5.28" fill="url(#gd2)"/>
<circle cx="144.60" cy="455.80" r="6.48" fill="url(#gd2)"/>
<circle cx="134.50" cy="462.70" r="7.08" fill="url(#gd2)"/>
<circle cx="147.70" cy="465.00" r="5.64" fill="url(#gd2)"/>
<circle cx="99.60" cy="465.00" r="3.72" fill="url(#gd2)"/>
<circle cx="122.90" cy="476.70" r="7.44" fill="url(#gm)"/>
<circle cx="135.30" cy="474.40" r="6.12" fill="url(#gd2)"/>
<circle cx="143.80" cy="469.00" r="4.68" fill="url(#gd2)"/>
<circle cx="147.70" cy="476.00" r="4.68" fill="url(#gd2)"/>
<circle cx="129.10" cy="485.30" r="4.08" fill="url(#gd2)"/>
<circle cx="139.20" cy="481.40" r="6.00" fill="url(#gd2)"/>
<circle cx="150.80" cy="483.70" r="3.72" fill="url(#gd2)"/>
<circle cx="117.40" cy="491.50" r="7.80" fill="url(#gd2)"/>
<circle cx="129.10" cy="493.00" r="5.64" fill="url(#gd2)"/>
<circle cx="137.60" cy="488.40" r="4.68" fill="url(#gd2)"/>
<circle cx="145.40" cy="493.80" r="6.00" fill="url(#gd2)"/>
<circle cx="136.80" cy="502.40" r="6.48" fill="url(#gd2)"/>
<circle cx="147.70" cy="507.00" r="5.28" fill="url(#gd2)"/>
<circle cx="118.20" cy="510.90" r="4.68" fill="url(#gd2)"/>
<circle cx="127.50" cy="511.70" r="5.28" fill="url(#gd2)"/>
<circle cx="138.40" cy="512.50" r="4.68" fill="url(#gd2)"/>
<circle cx="151.60" cy="499.30" r="3.72" fill="url(#gd2)"/>
</g>
<path d="M52.80,482.20 L66.80,482.20 L58.70,493.00 Z" fill="#000"/>
<path d="M102.70,467.40 L114.30,469.00 L108.10,476.70 Z" fill="#fff"/>
<line x1="99.60" y1="499.30" x2="145.40" y2="499.30" stroke="#111" stroke-width="0.9" />
<text x="123.50" y="497.90" font-size="3.2" text-anchor="middle" fill="#222" stroke="#222" stroke-width="0.1" >50 µm</text>
</g>
<text x="210.60" y="429.50" font-size="8.9" text-anchor="middle" fill="#1a1a1a" stroke="#1a1a1a" stroke-width="0.05" >KAT2Ash</text>
<clipPath id="clip1"><rect x="156.30" y="434.00" width="108.70" height="80.60"/></clipPath>
<g clip-path="url(#clip1)">
<rect x="156.30" y="434.00" width="108.70" height="80.60" fill="#efe7da" />
<g filter="url(#soft)">
<circle cx="216.30" cy="476.00" r="10.00" fill="url(#gp2)"/>
<circle cx="212.30" cy="484.00" r="7.00" fill="url(#gp2)"/>
<circle cx="221.30" cy="469.00" r="5.80" fill="url(#gp)"/>
<circle cx="162.40" cy="439.20" r="6.38" fill="url(#gd2)"/>
<circle cx="186.60" cy="439.20" r="7.70" fill="url(#gm)"/>
<circle cx="194.70" cy="440.40" r="4.95" fill="url(#gd2)"/>
<circle cx="203.90" cy="438.10" r="5.50" fill="url(#gd2)"/>
<circle cx="221.20" cy="440.40" r="8.80" fill="url(#gm)"/>
<circle cx="239.70" cy="439.20" r="7.70" fill="url(#gd2)"/>
<circle cx="251.30" cy="446.00" r="6.38" fill="url(#gl)"/>
<circle cx="160.10" cy="448.50" r="6.38" fill="url(#gd2)"/>
<circle cx="173.90" cy="451.90" r="3.08" fill="url(#gm)"/>
<circle cx="185.50" cy="453.00" r="8.80" fill="url(#gl)"/>
<circle cx="200.50" cy="448.50" r="6.38" fill="url(#gd2)"/>
<circle cx="210.80" cy="449.60" r="6.38" fill="url(#gd2)"/>
<circle cx="225.80" cy="454.20" r="8.80" fill="url(#gl)"/>
<circle cx="158.90" cy="462.30" r="6.38" fill="url(#gd2)"/>
<circle cx="175.10" cy="460.00" r="4.40" fill="url(#gm)"/>
<circle cx="168.20" cy="471.50" r="3.85" fill="url(#gd2)"/>
<circle cx="179.70" cy="472.70" r="9.90" fill="url(#gl)"/>
<circle cx="158.90" cy="478.50" r="6.38" fill="url(#gd2)"/>
<circle cx="228.20" cy="469.20" r="5.72" fill="url(#gd2)"/>
<circle cx="236.30" cy="472.70" r="3.30" fill="url(#gm)"/>
<circle cx="172.80" cy="484.20" r="4.40" fill="url(#gm)"/>
<circle cx="179.70" cy="492.30" r="6.05" fill="url(#gd2)"/>
<circle cx="190.10" cy="497.00" r="3.30" fill="url(#gm)"/>
<circle cx="200.50" cy="497.00" r="8.80" fill="url(#gl)"/>
<circle cx="253.50" cy="491.20" r="6.38" fill="url(#gd2)"/>
<circle cx="237.40" cy="501.50" r="9.35" fill="url(#gd2)"/>
<circle cx="168.20" cy="503.90" r="7.70" fill="url(#gd2)"/>
<circle cx="185.50" cy="507.30" r="7.70" fill="url(#gd2)"/>
<circle cx="260.50" cy="503.90" r="7.70" fill="url(#gd2)"/>
<circle cx="230.50" cy="512.00" r="6.38" fill="url(#gd2)"/>
<circle cx="248.90" cy="510.80" r="5.06" fill="url(#gd2)"/>
<circle cx="262.80" cy="436.90" r="3.85" fill="url(#gd2)"/>
<circle cx="158.30" cy="500.00" r="3.30" fill="url(#gd2)"/>
</g>
<path d="M195.10,469.00 L206.00,469.00 L200.60,459.60 Z" fill="#fff"/>
<path d="M248.90,451.60 L248.90,465.40 L259.80,458.50 Z" fill="#000"/>
<line x1="211.90" y1="498.00" x2="255.30" y2="498.00" stroke="#111" stroke-width="0.9" />
<text x="234.60" y="496.60" font-size="3.2" text-anchor="middle" fill="#222" stroke="#222" stroke-width="0.1" >50 µm</text>
</g>
<text x="322.70" y="429.50" font-size="8.9" text-anchor="middle" fill="#1a1a1a" stroke="#1a1a1a" stroke-width="0.05" >SUPT20Hsh</text>
<clipPath id="clip2"><rect x="268.30" y="434.00" width="108.70" height="80.60"/></clipPath>
<g clip-path="url(#clip2)">
<rect x="268.30" y="434.00" width="108.70" height="80.60" fill="#efe7da" />
<g filter="url(#soft)">
<circle cx="293.30" cy="464.00" r="30.00" fill="url(#gL)"/>
<circle cx="280.30" cy="489.00" r="14.00" fill="url(#gL)"/>
<circle cx="318.30" cy="484.00" r="12.00" fill="url(#gL)"/>
<circle cx="363.30" cy="496.00" r="14.00" fill="url(#gL)"/>
<circle cx="314.30" cy="462.00" r="6.00" fill="url(#gp2)"/>
<circle cx="334.30" cy="490.00" r="7.00" fill="url(#gp2)"/>
<circle cx="314.30" cy="474.00" r="8.70" fill="url(#gp)"/>
<circle cx="298.30" cy="486.00" r="7.25" fill="url(#gp)"/>
<circle cx="319.30" cy="455.00" r="5.80" fill="url(#gp)"/>
<circle cx="280.20" cy="441.50" r="6.67" fill="url(#gd)"/>
<circle cx="298.60" cy="439.20" r="6.67" fill="url(#gd)"/>
<circle cx="311.30" cy="436.90" r="5.29" fill="url(#gd)"/>
<circle cx="289.40" cy="449.60" r="8.05" fill="url(#gd)"/>
<circle cx="304.40" cy="448.50" r="5.75" fill="url(#gd)"/>
<circle cx="318.30" cy="449.60" r="8.05" fill="url(#gd)"/>
<circle cx="333.30" cy="445.00" r="8.05" fill="url(#gd)"/>
<circle cx="273.20" cy="461.20" r="6.67" fill="url(#gm)"/>
<circle cx="284.80" cy="458.80" r="5.75" fill="url(#gd)"/>
<circle cx="297.50" cy="460.00" r="6.67" fill="url(#gd)"/>
<circle cx="309.00" cy="458.80" r="5.75" fill="url(#gd)"/>
<circle cx="270.30" cy="446.00" r="5.17" fill="url(#gd)"/>
<circle cx="284.80" cy="470.40" r="7.47" fill="url(#gd)"/>
<circle cx="298.60" cy="471.50" r="6.67" fill="url(#gd)"/>
<circle cx="310.20" cy="469.20" r="5.75" fill="url(#gd)"/>
<circle cx="320.50" cy="472.70" r="6.67" fill="url(#gd)"/>
<circle cx="330.90" cy="465.80" r="6.67" fill="url(#gd)"/>
<circle cx="273.20" cy="479.60" r="7.47" fill="url(#gd)"/>
<circle cx="289.40" cy="478.50" r="7.47" fill="url(#gd)"/>
<circle cx="305.50" cy="480.80" r="7.47" fill="url(#gd)"/>
<circle cx="318.30" cy="483.10" r="5.75" fill="url(#gd)"/>
<circle cx="335.50" cy="483.10" r="7.47" fill="url(#gd)"/>
<circle cx="351.70" cy="476.20" r="8.05" fill="url(#gl)"/>
<circle cx="369.00" cy="479.60" r="9.20" fill="url(#gl)"/>
<circle cx="275.50" cy="493.50" r="8.05" fill="url(#gd)"/>
<circle cx="292.80" cy="494.60" r="7.47" fill="url(#gd)"/>
<circle cx="315.90" cy="493.50" r="8.05" fill="url(#gd)"/>
<circle cx="333.30" cy="494.60" r="5.75" fill="url(#gd)"/>
<circle cx="348.20" cy="488.80" r="5.75" fill="url(#gd)"/>
<circle cx="363.20" cy="491.20" r="6.67" fill="url(#gd)"/>
<circle cx="326.30" cy="505.00" r="6.67" fill="url(#gl)"/>
<circle cx="358.60" cy="503.90" r="9.20" fill="url(#gl)"/>
<circle cx="372.50" cy="503.90" r="6.67" fill="url(#gd)"/>
<circle cx="315.90" cy="512.00" r="4.02" fill="url(#gd)"/>
<circle cx="282.50" cy="506.20" r="2.64" fill="url(#gd)"/>
<circle cx="270.30" cy="436.00" r="4.60" fill="url(#gd)"/>
<circle cx="325.30" cy="437.00" r="4.02" fill="url(#gd)"/>
<circle cx="343.30" cy="510.00" r="4.60" fill="url(#gd)"/>
</g>
<path d="M293.90,501.60 L307.90,501.60 L300.20,512.50 Z" fill="#000"/>
<path d="M338.60,463.50 L350.30,463.50 L344.40,453.40 Z" fill="#fff"/>
<path d="M357.30,462.70 L368.10,458.10 L368.10,472.00 Z" fill="#000"/>
<path d="M335.50,503.10 L347.90,503.10 L341.70,512.50 Z" fill="#000"/>
<line x1="323.90" y1="498.50" x2="370.50" y2="498.50" stroke="#111" stroke-width="0.9" />
<text x="348.20" y="497.10" font-size="3.2" text-anchor="middle" fill="#222" stroke="#222" stroke-width="0.1" >50 µm</text>
</g>
<text x="434.00" y="429.50" font-size="8.9" text-anchor="middle" fill="#1a1a1a" stroke="#1a1a1a" stroke-width="0.05" >ZZZ3sh</text>
<clipPath id="clip3"><rect x="380.20" y="434.00" width="107.30" height="80.60"/></clipPath>
<g clip-path="url(#clip3)">
<rect x="380.20" y="434.00" width="107.30" height="80.60" fill="#efe7da" />
<g filter="url(#soft)">
<circle cx="459.10" cy="454.20" r="7.00" fill="url(#gp2)"/>
<circle cx="404.20" cy="466.00" r="7.00" fill="url(#gp2)"/>
<circle cx="410.20" cy="490.00" r="6.00" fill="url(#gp2)"/>
<circle cx="394.20" cy="478.00" r="7.25" fill="url(#gp)"/>
<circle cx="416.20" cy="474.00" r="7.25" fill="url(#gp)"/>
<circle cx="390.20" cy="462.00" r="7.25" fill="url(#gp)"/>
<circle cx="385.20" cy="440.40" r="4.67" fill="url(#gd)"/>
<circle cx="393.30" cy="440.40" r="4.67" fill="url(#gd)"/>
<circle cx="401.40" cy="438.10" r="4.67" fill="url(#gd)"/>
<circle cx="382.90" cy="448.50" r="4.67" fill="url(#gd)"/>
<circle cx="389.80" cy="449.60" r="4.67" fill="url(#gd)"/>
<circle cx="397.90" cy="449.60" r="4.67" fill="url(#gd)"/>
<circle cx="406.00" cy="447.30" r="4.67" fill="url(#gd)"/>
<circle cx="385.20" cy="458.80" r="4.67" fill="url(#gd)"/>
<circle cx="399.10" cy="457.70" r="4.67" fill="url(#gd)"/>
<circle cx="410.60" cy="454.20" r="4.67" fill="url(#gd)"/>
<circle cx="418.70" cy="449.60" r="4.67" fill="url(#gd)"/>
<circle cx="421.00" cy="456.50" r="4.67" fill="url(#gd)"/>
<circle cx="426.80" cy="448.50" r="4.67" fill="url(#gd)"/>
<circle cx="431.40" cy="441.50" r="4.67" fill="url(#gd)"/>
<circle cx="440.60" cy="440.40" r="4.67" fill="url(#gd)"/>
<circle cx="449.80" cy="436.90" r="4.67" fill="url(#gd)"/>
<circle cx="459.10" cy="439.20" r="4.67" fill="url(#gd)"/>
<circle cx="440.60" cy="450.80" r="4.67" fill="url(#gd)"/>
<circle cx="449.80" cy="450.80" r="4.67" fill="url(#gd)"/>
<circle cx="433.70" cy="460.00" r="4.67" fill="url(#gd)"/>
<circle cx="442.90" cy="460.00" r="4.67" fill="url(#gd)"/>
<circle cx="452.20" cy="463.50" r="4.67" fill="url(#gd)"/>
<circle cx="466.00" cy="448.50" r="4.67" fill="url(#gd)"/>
<circle cx="470.60" cy="443.80" r="4.67" fill="url(#gd)"/>
<circle cx="431.40" cy="466.90" r="4.67" fill="url(#gd)"/>
<circle cx="442.90" cy="470.40" r="4.67" fill="url(#gd)"/>
<circle cx="459.10" cy="470.40" r="4.67" fill="url(#gd)"/>
<circle cx="470.60" cy="471.50" r="4.67" fill="url(#gd)"/>
<circle cx="479.90" cy="468.00" r="4.67" fill="url(#gd)"/>
<circle cx="484.50" cy="464.60" r="4.67" fill="url(#gd)"/>
<circle cx="456.80" cy="478.50" r="4.67" fill="url(#gd)"/>
<circle cx="472.90" cy="479.60" r="4.67" fill="url(#gd)"/>
<circle cx="482.20" cy="478.50" r="4.67" fill="url(#gd)"/>
<circle cx="382.90" cy="470.40" r="4.67" fill="url(#gd)"/>
<circle cx="392.20" cy="472.70" r="4.67" fill="url(#gd)"/>
<circle cx="385.20" cy="483.10" r="4.67" fill="url(#gd)"/>
<circle cx="394.50" cy="485.40" r="4.67" fill="url(#gd)"/>
<circle cx="403.70" cy="481.90" r="4.67" fill="url(#gd)"/>
<circle cx="419.80" cy="472.70" r="4.67" fill="url(#gd)"/>
<circle cx="410.60" cy="479.60" r="4.67" fill="url(#gd)"/>
<circle cx="438.30" cy="490.00" r="4.67" fill="url(#gd)"/>
<circle cx="446.40" cy="493.50" r="4.67" fill="url(#gd)"/>
<circle cx="456.80" cy="491.20" r="4.67" fill="url(#gd)"/>
<circle cx="466.00" cy="487.70" r="4.67" fill="url(#gd)"/>
<circle cx="475.20" cy="488.80" r="4.67" fill="url(#gd)"/>
<circle cx="484.50" cy="487.70" r="4.67" fill="url(#gd)"/>
<circle cx="385.20" cy="494.60" r="4.67" fill="url(#gd)"/>
<circle cx="394.50" cy="492.30" r="4.67" fill="url(#gd)"/>
<circle cx="408.30" cy="495.80" r="4.67" fill="url(#gd)"/>
<circle cx="419.80" cy="494.60" r="4.67" fill="url(#gd)"/>
<circle cx="389.80" cy="503.80" r="4.67" fill="url(#gd)"/>
<circle cx="401.40" cy="506.20" r="4.67" fill="url(#gd)"/>
<circle cx="436.00" cy="506.20" r="4.67" fill="url(#gd)"/>
<circle cx="447.50" cy="503.80" r="4.67" fill="url(#gd)"/>
<circle cx="459.10" cy="503.80" r="4.67" fill="url(#gd)"/>
<circle cx="470.60" cy="506.20" r="4.67" fill="url(#gd)"/>
<circle cx="482.20" cy="503.80" r="4.67" fill="url(#gd)"/>
<circle cx="440.60" cy="512.00" r="4.67" fill="url(#gd)"/>
<circle cx="454.50" cy="510.80" r="4.67" fill="url(#gd)"/>
<circle cx="468.30" cy="512.00" r="4.67" fill="url(#gd)"/>
<circle cx="385.20" cy="510.80" r="4.67" fill="url(#gd)"/>
<circle cx="381.20" cy="437.00" r="4.67" fill="url(#gd)"/>
<circle cx="486.20" cy="454.00" r="4.67" fill="url(#gd)"/>
<circle cx="486.20" cy="498.00" r="4.67" fill="url(#gd)"/>
<circle cx="410.20" cy="512.00" r="4.67" fill="url(#gd)"/>
<circle cx="401.40" cy="464.60" r="5.02" fill="url(#gm)"/>
<circle cx="412.90" cy="468.00" r="5.02" fill="url(#gm)"/>
<circle cx="459.10" cy="454.20" r="5.02" fill="url(#gm)"/>
<circle cx="392.20" cy="464.00" r="5.02" fill="url(#gm)"/>
<circle cx="477.20" cy="495.00" r="5.02" fill="url(#gm)"/>
<circle cx="429.10" cy="488.80" r="7.41" fill="url(#gd)"/>
<circle cx="398.20" cy="474.00" r="4.56" fill="url(#gm)"/>
<circle cx="388.20" cy="465.00" r="4.56" fill="url(#gm)"/>
<circle cx="407.20" cy="462.00" r="4.56" fill="url(#gm)"/>
<circle cx="415.20" cy="486.00" r="4.56" fill="url(#gd)"/>
<circle cx="424.20" cy="480.00" r="3.99" fill="url(#gd)"/>
<circle cx="402.20" cy="500.00" r="3.99" fill="url(#gd)"/>
<circle cx="413.20" cy="439.00" r="3.99" fill="url(#gm)"/>
<circle cx="476.20" cy="459.00" r="3.99" fill="url(#gd)"/>
<circle cx="464.20" cy="462.00" r="3.99" fill="url(#gd)"/>
</g>
<path d="M412.10,486.80 L424.50,489.20 L419.00,479.10 Z" fill="#fff"/>
<line x1="437.10" y1="499.30" x2="478.30" y2="499.30" stroke="#111" stroke-width="0.9" />
<text x="458.70" y="497.90" font-size="3.2" text-anchor="middle" fill="#222" stroke="#222" stroke-width="0.1" >50 µm</text>
</g>
<rect x="0.5" y="0.5" width="519" height="521" fill="none" stroke="#000" stroke-width="1.2"/>
</svg>
</body></html>
